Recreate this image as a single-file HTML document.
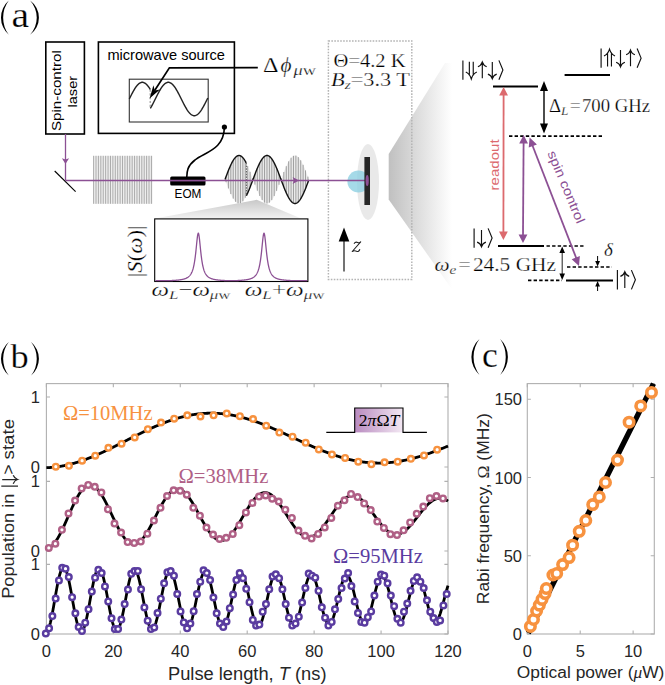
<!DOCTYPE html><html><head><meta charset="utf-8"><style>html,body{margin:0;padding:0;background:#fff;}svg{display:block;}</style></head><body><svg width="665" height="685" viewBox="0 0 665 685"><defs>
<linearGradient id="cone" x1="0" x2="1" y1="0" y2="0"><stop offset="0" stop-color="#c0c0c0"/><stop offset="1" stop-color="#ffffff"/></linearGradient>
<linearGradient id="wedge" x1="0" x2="0" y1="0" y2="1"><stop offset="0" stop-color="#c8c8c8"/><stop offset="1" stop-color="#f2f2f2"/></linearGradient>
<linearGradient id="pulse" x1="0" x2="1" y1="0" y2="0"><stop offset="0" stop-color="#b98bc0"/><stop offset="1" stop-color="#f3e8f3"/></linearGradient>
<marker id="ahP" viewBox="0 0 10 10" refX="10" refY="5" markerWidth="10" markerHeight="10" markerUnits="userSpaceOnUse" orient="auto-start-reverse"><path d="M0,0 L10,5 L0,10 z" fill="#8c5094"/></marker>
</defs>
<path d="M8.8,0.6A22.64,22.64 0 0 0 8.8,34.8A28.7,28.7 0 0 1 8.8,0.6z" fill="#000"/>
<path d="M30.1,0.6A21.01,21.01 0 0 1 30.1,34.8A25.31,25.31 0 0 0 30.1,0.6z" fill="#000"/>
<text x="11.4" y="26.5" font-size="36" font-family="Liberation Serif, serif" fill="#000" text-anchor="start" textLength="17.6" lengthAdjust="spacingAndGlyphs"   stroke="#fff" stroke-width="0.25">a</text>
<rect x="45.8" y="42" width="38.6" height="92" fill="none" stroke="#000" stroke-width="1.6"/>
<text x="61.2" y="131" font-size="13.3" font-family="Liberation Sans, sans-serif" fill="#000" text-anchor="start" transform="rotate(-90 61.2 131)" textLength="80.8" lengthAdjust="spacingAndGlyphs"  >Spin-control</text>
<text x="76.6" y="107.5" font-size="13.3" font-family="Liberation Sans, sans-serif" fill="#000" text-anchor="start" transform="rotate(-90 76.6 107.5)" textLength="31.6" lengthAdjust="spacingAndGlyphs"  >laser</text>
<rect x="98.4" y="42" width="136" height="91.4" fill="none" stroke="#000" stroke-width="1.6"/>
<text x="107.4" y="59.6" font-size="14.5" font-family="Liberation Sans, sans-serif" fill="#000" text-anchor="start" textLength="117.6" lengthAdjust="spacingAndGlyphs"  >microwave source</text>
<rect x="129.3" y="79.2" width="78.9" height="42.8" fill="none" stroke="#333" stroke-width="1.1"/>
<polyline points="129.3,99 129.8,97.99 130.3,96.99 130.8,95.99 131.3,95 131.8,94.03 132.3,93.08 132.8,92.15 133.3,91.24 133.8,90.36 134.3,89.51 134.8,88.7 135.3,87.93 135.8,87.19 136.3,86.5 136.8,85.85 137.3,85.26 137.8,84.71 138.3,84.21 138.8,83.77 139.3,83.39 139.8,83.06 140.3,82.79 140.8,82.57 141.3,82.42 141.8,82.33 142.3,82.3 142.8,82.33 143.3,82.42 143.8,82.57 144.3,82.79 144.8,83.06 145.3,83.39 145.8,83.77 146.3,84.21 146.8,84.71 147.3,85.26 147.8,85.85 148.3,86.5 148.8,87.19 149.3,87.93 149.8,88.7 150.3,89.51" fill="none" stroke="#222" stroke-width="1.45"/>
<polyline points="150.3,108.49 150.8,107.64 151.3,106.76 151.8,105.85 152.3,104.92 152.8,103.97 153.3,103 153.8,102.01 154.3,101.01 154.8,100.01 155.3,99 155.8,97.99 156.3,96.99 156.8,95.99 157.3,95 157.8,94.03 158.3,93.08 158.8,92.15 159.3,91.24 159.8,90.36 160.3,89.51 160.8,88.7 161.3,87.93 161.8,87.19 162.3,86.5 162.8,85.85 163.3,85.26 163.8,84.71 164.3,84.21 164.8,83.77 165.3,83.39 165.8,83.06 166.3,82.79 166.8,82.57 167.3,82.42 167.8,82.33 168.3,82.3 168.8,82.33 169.3,82.42 169.8,82.57 170.3,82.79 170.8,83.06 171.3,83.39 171.8,83.77 172.3,84.21 172.8,84.71 173.3,85.26 173.8,85.85 174.3,86.5 174.8,87.19 175.3,87.93 175.8,88.7 176.3,89.51 176.8,90.36 177.3,91.24 177.8,92.15 178.3,93.08 178.8,94.03 179.3,95 179.8,95.99 180.3,96.99 180.8,97.99 181.3,99 181.8,100.01 182.3,101.01 182.8,102.01 183.3,103 183.8,103.97 184.3,104.92 184.8,105.85 185.3,106.76 185.8,107.64 186.3,108.49 186.8,109.3 187.3,110.07 187.8,110.81 188.3,111.5 188.8,112.15 189.3,112.74 189.8,113.29 190.3,113.79 190.8,114.23 191.3,114.61 191.8,114.94 192.3,115.21 192.8,115.43 193.3,115.58 193.8,115.67 194.3,115.7 194.8,115.67 195.3,115.58 195.8,115.43 196.3,115.21 196.8,114.94 197.3,114.61 197.8,114.23 198.3,113.79 198.8,113.29 199.3,112.74 199.8,112.15 200.3,111.5 200.8,110.81 201.3,110.07 201.8,109.3 202.3,108.49 202.8,107.64 203.3,106.76 203.8,105.85 204.3,104.92 204.8,103.97 205.3,103 205.8,102.01 206.3,101.01 206.8,100.01 207.3,99 207.8,97.99" fill="none" stroke="#222" stroke-width="1.45"/>
<line x1="150.2" y1="89.51" x2="150.2" y2="108.49" stroke="#999" stroke-width="1.2" stroke-dasharray="2.2,1.6"/>
<polyline points="257.8,67.6 169.4,67.9 154.5,90.8" fill="none" stroke="#000" stroke-width="1.7"/>
<path d="M149.60,98.40 L159.95,89.62 L154.77,90.43 L153.41,85.37 z" fill="#000"/>
<text x="263" y="72" font-size="20.5" font-family="Liberation Serif, serif" fill="#000" text-anchor="start" textLength="15.5" lengthAdjust="spacingAndGlyphs"   stroke="#fff" stroke-width="0.25">&#916;</text>
<text x="280.5" y="72" font-size="20" font-family="Liberation Serif, serif" fill="#000" text-anchor="start" textLength="11" lengthAdjust="spacingAndGlyphs" font-style="italic"  stroke="#fff" stroke-width="0.25">&#981;</text>
<text x="293.5" y="75" font-size="14" font-family="Liberation Serif, serif" fill="#000" text-anchor="start" textLength="22.5" lengthAdjust="spacingAndGlyphs"   stroke="#fff" stroke-width="0.25"><tspan font-style="italic">&#956;</tspan>w</text>
<circle cx="224.4" cy="127" r="2.6" fill="#000"/>
<path d="M224.4,127 C224,150 205,152 195,160 C187,166 187,172 186.8,177" fill="none" stroke="#000" stroke-width="1.6"/>
<line x1="65.5" y1="134" x2="65.5" y2="180.5" stroke="#8c5094" stroke-width="1.3"/>
<path d="M61.9,158.2 L65.5,159.5 L69.1,158.2 L65.5,164 z" fill="#8c5094"/>
<line x1="54.7" y1="171" x2="75.6" y2="191.6" stroke="#000" stroke-width="1.1"/>
<polygon points="256.7,199.8 301,218.5 155,218.5" fill="url(#wedge)"/>
<rect x="93.3" y="155.8" width="59.2" height="48" fill="#eeeeee"/>
<path d="M93.6,155.8V203.8M96.01,155.8V203.8M98.42,155.8V203.8M100.83,155.8V203.8M103.24,155.8V203.8M105.65,155.8V203.8M108.06,155.8V203.8M110.47,155.8V203.8M112.88,155.8V203.8M115.29,155.8V203.8M117.7,155.8V203.8M120.11,155.8V203.8M122.52,155.8V203.8M124.93,155.8V203.8M127.34,155.8V203.8M129.75,155.8V203.8M132.16,155.8V203.8M134.57,155.8V203.8M136.98,155.8V203.8M139.39,155.8V203.8M141.8,155.8V203.8M144.21,155.8V203.8M146.62,155.8V203.8M149.03,155.8V203.8M151.44,155.8V203.8" stroke="#999999" stroke-width="0.8" fill="none"/>
<polygon points="225,179.5 225.5,178.15 226,176.81 226.5,175.48 227,174.16 227.5,172.86 228,171.57 228.5,170.32 229,169.09 229.5,167.89 230,166.73 230.5,165.61 231,164.54 231.5,163.51 232,162.53 232.5,161.6 233,160.74 233.5,159.93 234,159.18 234.5,158.49 235,157.88 235.5,157.33 236,156.85 236.5,156.44 237,156.1 237.5,155.84 238,155.65 238.5,155.54 239,155.5 239.5,155.54 240,155.65 240.5,155.84 241,156.1 241.5,156.44 242,156.85 242.5,157.33 243,157.88 243.5,158.49 244,159.18 244.5,159.93 245,160.74 245.5,161.6 246,162.53 246.5,163.51 247,164.54 247.5,165.61 248,166.73 248.5,167.89 249,169.09 249.5,170.32 250,171.57 250.5,172.86 251,174.16 251.5,175.48 252,176.81 252.5,178.15 253,179.5 253.5,178.15 254,176.81 254.5,175.48 255,174.16 255.5,172.86 256,171.57 256.5,170.32 257,169.09 257.5,167.89 258,166.73 258.5,165.61 259,164.54 259.5,163.51 260,162.53 260.5,161.6 261,160.74 261.5,159.93 262,159.18 262.5,158.49 263,157.88 263.5,157.33 264,156.85 264.5,156.44 265,156.1 265.5,155.84 266,155.65 266.5,155.54 267,155.5 267.5,155.54 268,155.65 268.5,155.84 269,156.1 269.5,156.44 270,156.85 270.5,157.33 271,157.88 271.5,158.49 272,159.18 272.5,159.93 273,160.74 273.5,161.6 274,162.53 274.5,163.51 275,164.54 275.5,165.61 276,166.73 276.5,167.89 277,169.09 277.5,170.32 278,171.57 278.5,172.86 279,174.16 279.5,175.48 280,176.81 280.5,178.15 281,179.5 281.5,178.15 282,176.81 282.5,175.48 283,174.16 283.5,172.86 284,171.57 284.5,170.32 285,169.09 285.5,167.89 286,166.73 286.5,165.61 287,164.54 287.5,163.51 288,162.53 288.5,161.6 289,160.74 289.5,159.93 290,159.18 290.5,158.49 291,157.88 291.5,157.33 292,156.85 292.5,156.44 293,156.1 293.5,155.84 294,155.65 294.5,155.54 295,155.5 295.5,155.54 296,155.65 296.5,155.84 297,156.1 297.5,156.44 298,156.85 298.5,157.33 299,157.88 299.5,158.49 300,159.18 300.5,159.93 301,160.74 301.5,161.6 302,162.53 302.5,163.51 303,164.54 303.5,165.61 304,166.73 304.5,167.89 305,169.09 305.5,170.32 306,171.57 306.5,172.86 307,174.16 307.5,175.48 308,176.81 308.5,178.15 309,179.5 309,179.5 308.5,180.85 308,182.19 307.5,183.52 307,184.84 306.5,186.14 306,187.43 305.5,188.68 305,189.91 304.5,191.11 304,192.27 303.5,193.39 303,194.46 302.5,195.49 302,196.47 301.5,197.4 301,198.26 300.5,199.07 300,199.82 299.5,200.51 299,201.12 298.5,201.67 298,202.15 297.5,202.56 297,202.9 296.5,203.16 296,203.35 295.5,203.46 295,203.5 294.5,203.46 294,203.35 293.5,203.16 293,202.9 292.5,202.56 292,202.15 291.5,201.67 291,201.12 290.5,200.51 290,199.82 289.5,199.07 289,198.26 288.5,197.4 288,196.47 287.5,195.49 287,194.46 286.5,193.39 286,192.27 285.5,191.11 285,189.91 284.5,188.68 284,187.43 283.5,186.14 283,184.84 282.5,183.52 282,182.19 281.5,180.85 281,179.5 280.5,180.85 280,182.19 279.5,183.52 279,184.84 278.5,186.14 278,187.43 277.5,188.68 277,189.91 276.5,191.11 276,192.27 275.5,193.39 275,194.46 274.5,195.49 274,196.47 273.5,197.4 273,198.26 272.5,199.07 272,199.82 271.5,200.51 271,201.12 270.5,201.67 270,202.15 269.5,202.56 269,202.9 268.5,203.16 268,203.35 267.5,203.46 267,203.5 266.5,203.46 266,203.35 265.5,203.16 265,202.9 264.5,202.56 264,202.15 263.5,201.67 263,201.12 262.5,200.51 262,199.82 261.5,199.07 261,198.26 260.5,197.4 260,196.47 259.5,195.49 259,194.46 258.5,193.39 258,192.27 257.5,191.11 257,189.91 256.5,188.68 256,187.43 255.5,186.14 255,184.84 254.5,183.52 254,182.19 253.5,180.85 253,179.5 252.5,180.85 252,182.19 251.5,183.52 251,184.84 250.5,186.14 250,187.43 249.5,188.68 249,189.91 248.5,191.11 248,192.27 247.5,193.39 247,194.46 246.5,195.49 246,196.47 245.5,197.4 245,198.26 244.5,199.07 244,199.82 243.5,200.51 243,201.12 242.5,201.67 242,202.15 241.5,202.56 241,202.9 240.5,203.16 240,203.35 239.5,203.46 239,203.5 238.5,203.46 238,203.35 237.5,203.16 237,202.9 236.5,202.56 236,202.15 235.5,201.67 235,201.12 234.5,200.51 234,199.82 233.5,199.07 233,198.26 232.5,197.4 232,196.47 231.5,195.49 231,194.46 230.5,193.39 230,192.27 229.5,191.11 229,189.91 228.5,188.68 228,187.43 227.5,186.14 227,184.84 226.5,183.52 226,182.19 225.5,180.85 225,179.5" fill="#ebebeb"/>
<path d="M226,176.81V182.19M228.41,170.54V188.46M230.82,164.92V194.08M233.23,160.36V198.64M235.64,157.19V201.81M238.05,155.64V203.36M240.46,155.82V203.18M242.87,157.73V201.27M245.28,161.22V197.78M247.69,166.03V192.97M250.1,171.83V187.17M252.51,178.18V180.82M254.92,174.37V184.63M257.33,168.29V190.71M259.74,163.03V195.97M262.15,158.97V200.03M264.56,156.39V202.61M266.97,155.5V203.5M269.38,156.35V202.65M271.79,158.88V200.12M274.2,162.91V196.09M276.61,168.15V190.85M279.02,174.21V184.79M281.43,178.34V180.66M283.84,171.98V187.02M286.25,166.17V192.83M288.66,161.32V197.68M291.07,157.8V201.2M293.48,155.85V203.15M295.89,155.62V203.38M298.3,157.13V201.87M300.71,160.26V198.74M303.12,164.79V194.21M305.53,170.39V188.61M307.94,176.65V182.35" stroke="#8a8a8a" stroke-width="0.8" fill="none"/>
<polyline points="225,179.5 225.4,178.42 225.8,177.35 226.2,176.28 226.6,175.21 227,174.16 227.4,173.12 227.8,172.08 228.2,171.07 228.6,170.07 229,169.09 229.4,168.13 229.8,167.19 230.2,166.28 230.6,165.39 231,164.54 231.4,163.71 231.8,162.91 232.2,162.15 232.6,161.43 233,160.74 233.4,160.08 233.8,159.47 234.2,158.9 234.6,158.37 235,157.88 235.4,157.43 235.8,157.03 236.2,156.67 236.6,156.36 237,156.1 237.4,155.89 237.8,155.72 238.2,155.6 238.6,155.52 239,155.5 239.4,155.52 239.8,155.6 240.2,155.72 240.6,155.89 241,156.1 241.4,156.36 241.8,156.67 242.2,157.03 242.6,157.43 243,157.88 243.4,158.37 243.8,158.9 244.2,159.47 244.6,160.08 245,160.74 245.4,161.43 245.8,162.15 246.2,162.91" fill="none" stroke="#111" stroke-width="1.4"/>
<polyline points="246.4,195.69 246.8,194.88 247.2,194.04 247.6,193.17 248,192.27 248.4,191.34 248.8,190.4 249.2,189.43 249.6,188.44 250,187.43 250.4,186.4 250.8,185.36 251.2,184.31 251.6,183.25 252,182.19 252.4,181.11 252.8,180.04 253.2,178.96 253.6,177.89 254,176.81 254.4,175.75 254.8,174.69 255.2,173.64 255.6,172.6 256,171.57 256.4,170.56 256.8,169.57 257.2,168.6 257.6,167.66 258,166.73 258.4,165.83 258.8,164.96 259.2,164.12 259.6,163.31 260,162.53 260.4,161.79 260.8,161.08 261.2,160.41 261.6,159.77 262,159.18 262.4,158.63 262.8,158.12 263.2,157.65 263.6,157.23 264,156.85 264.4,156.51 264.8,156.23 265.2,155.99 265.6,155.8 266,155.65 266.4,155.55 266.8,155.51 267.2,155.51 267.6,155.55 268,155.65 268.4,155.8 268.8,155.99 269.2,156.23 269.6,156.51 270,156.85 270.4,157.23 270.8,157.65 271.2,158.12 271.6,158.63 272,159.18 272.4,159.77 272.8,160.41 273.2,161.08 273.6,161.79 274,162.53 274.4,163.31 274.8,164.12 275.2,164.96 275.6,165.83 276,166.73 276.4,167.66 276.8,168.6 277.2,169.57 277.6,170.56 278,171.57 278.4,172.6 278.8,173.64 279.2,174.69 279.6,175.75 280,176.81 280.4,177.89 280.8,178.96 281.2,180.04 281.6,181.11 282,182.19 282.4,183.25 282.8,184.31 283.2,185.36 283.6,186.4 284,187.43 284.4,188.44 284.8,189.43 285.2,190.4 285.6,191.34 286,192.27 286.4,193.17 286.8,194.04 287.2,194.88 287.6,195.69 288,196.47 288.4,197.21 288.8,197.92 289.2,198.59 289.6,199.23 290,199.82 290.4,200.37 290.8,200.88 291.2,201.35 291.6,201.77 292,202.15 292.4,202.49 292.8,202.77 293.2,203.01 293.6,203.2 294,203.35 294.4,203.45 294.8,203.49 295.2,203.49 295.6,203.45 296,203.35 296.4,203.2 296.8,203.01 297.2,202.77 297.6,202.49 298,202.15 298.4,201.77 298.8,201.35 299.2,200.88 299.6,200.37 300,199.82 300.4,199.23 300.8,198.59 301.2,197.92 301.6,197.21 302,196.47 302.4,195.69 302.8,194.88 303.2,194.04 303.6,193.17 304,192.27 304.4,191.34 304.8,190.4 305.2,189.43 305.6,188.44 306,187.43 306.4,186.4 306.8,185.36 307.2,184.31 307.6,183.25 308,182.19 308.4,181.11 308.8,180.04" fill="none" stroke="#111" stroke-width="1.4"/>
<line x1="246.4" y1="162.91" x2="246.4" y2="195.69" stroke="#333" stroke-width="0.8" stroke-dasharray="1.5,1.2"/>
<rect x="170.2" y="176.6" width="35.3" height="8.9" rx="1.5" fill="#000"/>
<line x1="170.2" y1="180.6" x2="205.5" y2="180.6" stroke="#8c5094" stroke-width="1.2"/>
<text x="174.6" y="198.1" font-size="12.4" font-family="Liberation Sans, sans-serif" fill="#000" text-anchor="start" textLength="26.8" lengthAdjust="spacingAndGlyphs"  >EOM</text>
<rect x="154.7" y="218.9" width="153.2" height="62.6" fill="#fff" stroke="#000" stroke-width="1.1"/>
<polyline points="155.5,280.6 155.75,280.6 156,280.6 156.25,280.6 156.5,280.6 156.75,280.6 157,280.6 157.25,280.6 157.5,280.6 157.75,280.6 158,280.6 158.25,280.6 158.5,280.6 158.75,280.6 159,280.6 159.25,280.6 159.5,280.6 159.75,280.6 160,280.6 160.25,280.6 160.5,280.6 160.75,280.6 161,280.6 161.25,280.6 161.5,280.6 161.75,280.6 162,280.6 162.25,280.6 162.5,280.6 162.75,280.6 163,280.6 163.25,280.6 163.5,280.6 163.75,280.6 164,280.6 164.25,280.6 164.5,280.6 164.75,280.6 165,280.6 165.25,280.6 165.5,280.6 165.75,280.6 166,280.6 166.25,280.6 166.5,280.6 166.75,280.6 167,280.6 167.25,280.6 167.5,280.6 167.75,280.6 168,280.6 168.25,280.6 168.5,280.6 168.75,280.6 169,280.6 169.25,280.6 169.5,280.6 169.75,280.6 170,280.6 170.25,280.6 170.5,280.59 170.75,280.58 171,280.56 171.25,280.55 171.5,280.54 171.75,280.53 172,280.52 172.25,280.51 172.5,280.49 172.75,280.48 173,280.47 173.25,280.45 173.5,280.44 173.75,280.42 174,280.41 174.25,280.39 174.5,280.38 174.75,280.36 175,280.34 175.25,280.32 175.5,280.3 175.75,280.29 176,280.27 176.25,280.25 176.5,280.22 176.75,280.2 177,280.18 177.25,280.16 177.5,280.13 177.75,280.11 178,280.08 178.25,280.06 178.5,280.03 178.75,280 179,279.97 179.25,279.94 179.5,279.91 179.75,279.87 180,279.84 180.25,279.8 180.5,279.76 180.75,279.72 181,279.68 181.25,279.64 181.5,279.6 181.75,279.55 182,279.5 182.25,279.45 182.5,279.4 182.75,279.34 183,279.28 183.25,279.22 183.5,279.16 183.75,279.09 184,279.02 184.25,278.95 184.5,278.87 184.75,278.79 185,278.7 185.25,278.61 185.5,278.52 185.75,278.42 186,278.31 186.25,278.2 186.5,278.08 186.75,277.95 187,277.82 187.25,277.68 187.5,277.52 187.75,277.36 188,277.19 188.25,277.01 188.5,276.81 188.75,276.6 189,276.38 189.25,276.14 189.5,275.88 189.75,275.6 190,275.3 190.25,274.98 190.5,274.63 190.75,274.25 191,273.85 191.25,273.4 191.5,272.92 191.75,272.4 192,271.82 192.25,271.2 192.5,270.52 192.75,269.77 193,268.95 193.25,268.05 193.5,267.05 193.75,265.97 194,264.77 194.25,263.45 194.5,262.01 194.75,260.42 195,258.69 195.25,256.8 195.5,254.75 195.75,252.56 196,250.23 196.25,247.8 196.5,245.3 196.75,242.8 197,240.38 197.25,238.14 197.5,236.2 197.75,234.66 198,233.65 198.25,233.21 198.5,233.4 198.75,234.19 199,235.53 199.25,237.32 199.5,239.45 199.75,241.81 200,244.29 200.25,246.8 200.5,249.27 200.75,251.65 201,253.89 201.25,256 201.5,257.95 201.75,259.74 202,261.39 202.25,262.89 202.5,264.26 202.75,265.5 203,266.63 203.25,267.66 203.5,268.6 203.75,269.45 204,270.22 204.25,270.93 204.5,271.58 204.75,272.17 205,272.72 205.25,273.21 205.5,273.67 205.75,274.09 206,274.48 206.25,274.84 206.5,275.18 206.75,275.48 207,275.77 207.25,276.04 207.5,276.28 207.75,276.51 208,276.73 208.25,276.93 208.5,277.12 208.75,277.3 209,277.46 209.25,277.62 209.5,277.76 209.75,277.9 210,278.03 210.25,278.15 210.5,278.27 210.75,278.37 211,278.48 211.25,278.58 211.5,278.67 211.75,278.76 212,278.84 212.25,278.92 212.5,278.99 212.75,279.06 213,279.13 213.25,279.2 213.5,279.26 213.75,279.32 214,279.38 214.25,279.43 214.5,279.48 214.75,279.53 215,279.58 215.25,279.62 215.5,279.67 215.75,279.71 216,279.75 216.25,279.79 216.5,279.82 216.75,279.86 217,279.89 217.25,279.93 217.5,279.96 217.75,279.99 218,280.02 218.25,280.04 218.5,280.07 218.75,280.1 219,280.12 219.25,280.15 219.5,280.17 219.75,280.19 220,280.22 220.25,280.24 220.5,280.26 220.75,280.28 221,280.3 221.25,280.32 221.5,280.33 221.75,280.35 222,280.37 222.25,280.39 222.5,280.4 222.75,280.42 223,280.43 223.25,280.45 223.5,280.46 223.75,280.47 224,280.49 224.25,280.5 224.5,280.51 224.75,280.53 225,280.54 225.25,280.55 225.5,280.56 225.75,280.57 226,280.58 226.25,280.59 226.5,280.6 226.75,280.6 227,280.6 227.25,280.6 227.5,280.6 227.75,280.6 228,280.6 228.25,280.6 228.5,280.6 228.75,280.6 229,280.6 229.25,280.6 229.5,280.6 229.75,280.6 230,280.6 230.25,280.6 230.5,280.6 230.75,280.6 231,280.6 231.25,280.6 231.5,280.6 231.75,280.6 232,280.6 232.25,280.6 232.5,280.6 232.75,280.6 233,280.6 233.25,280.6 233.5,280.6 233.75,280.6 234,280.6 234.25,280.6 234.5,280.6 234.75,280.6 235,280.6 235.25,280.6 235.5,280.6 235.75,280.6 236,280.59 236.25,280.58 236.5,280.57 236.75,280.56 237,280.55 237.25,280.54 237.5,280.53 237.75,280.52 238,280.5 238.25,280.49 238.5,280.48 238.75,280.46 239,280.45 239.25,280.43 239.5,280.42 239.75,280.4 240,280.39 240.25,280.37 240.5,280.36 240.75,280.34 241,280.32 241.25,280.3 241.5,280.28 241.75,280.26 242,280.24 242.25,280.22 242.5,280.2 242.75,280.18 243,280.15 243.25,280.13 243.5,280.1 243.75,280.08 244,280.05 244.25,280.02 244.5,279.99 244.75,279.96 245,279.93 245.25,279.9 245.5,279.87 245.75,279.83 246,279.79 246.25,279.76 246.5,279.72 246.75,279.67 247,279.63 247.25,279.59 247.5,279.54 247.75,279.49 248,279.44 248.25,279.39 248.5,279.33 248.75,279.27 249,279.21 249.25,279.15 249.5,279.08 249.75,279.01 250,278.93 250.25,278.86 250.5,278.77 250.75,278.69 251,278.59 251.25,278.5 251.5,278.4 251.75,278.29 252,278.17 252.25,278.05 252.5,277.93 252.75,277.79 253,277.65 253.25,277.49 253.5,277.33 253.75,277.16 254,276.97 254.25,276.77 254.5,276.56 254.75,276.33 255,276.09 255.25,275.83 255.5,275.54 255.75,275.24 256,274.91 256.25,274.56 256.5,274.18 256.75,273.76 257,273.31 257.25,272.82 257.5,272.29 257.75,271.7 258,271.07 258.25,270.37 258.5,269.61 258.75,268.77 259,267.85 259.25,266.85 259.5,265.74 259.75,264.51 260,263.17 260.25,261.7 260.5,260.08 260.75,258.32 261,256.4 261.25,254.33 261.5,252.11 261.75,249.75 262,247.3 262.25,244.79 262.5,242.3 262.75,239.91 263,237.72 263.25,235.85 263.5,234.42 263.75,233.51 264,233.2 264.25,233.51 264.5,234.42 264.75,235.85 265,237.72 265.25,239.91 265.5,242.3 265.75,244.79 266,247.3 266.25,249.75 266.5,252.11 266.75,254.33 267,256.4 267.25,258.32 267.5,260.08 267.75,261.7 268,263.17 268.25,264.51 268.5,265.74 268.75,266.85 269,267.85 269.25,268.77 269.5,269.61 269.75,270.37 270,271.07 270.25,271.7 270.5,272.29 270.75,272.82 271,273.31 271.25,273.76 271.5,274.18 271.75,274.56 272,274.91 272.25,275.24 272.5,275.54 272.75,275.83 273,276.09 273.25,276.33 273.5,276.56 273.75,276.77 274,276.97 274.25,277.16 274.5,277.33 274.75,277.49 275,277.65 275.25,277.79 275.5,277.93 275.75,278.05 276,278.17 276.25,278.29 276.5,278.4 276.75,278.5 277,278.59 277.25,278.69 277.5,278.77 277.75,278.86 278,278.93 278.25,279.01 278.5,279.08 278.75,279.15 279,279.21 279.25,279.27 279.5,279.33 279.75,279.39 280,279.44 280.25,279.49 280.5,279.54 280.75,279.59 281,279.63 281.25,279.67 281.5,279.72 281.75,279.76 282,279.79 282.25,279.83 282.5,279.87 282.75,279.9 283,279.93 283.25,279.96 283.5,279.99 283.75,280.02 284,280.05 284.25,280.08 284.5,280.1 284.75,280.13 285,280.15 285.25,280.18 285.5,280.2 285.75,280.22 286,280.24 286.25,280.26 286.5,280.28 286.75,280.3 287,280.32 287.25,280.34 287.5,280.36 287.75,280.37 288,280.39 288.25,280.4 288.5,280.42 288.75,280.43 289,280.45 289.25,280.46 289.5,280.48 289.75,280.49 290,280.5 290.25,280.52 290.5,280.53 290.75,280.54 291,280.55 291.25,280.56 291.5,280.57 291.75,280.58 292,280.59 292.25,280.6 292.5,280.6 292.75,280.6 293,280.6 293.25,280.6 293.5,280.6 293.75,280.6 294,280.6 294.25,280.6 294.5,280.6 294.75,280.6 295,280.6 295.25,280.6 295.5,280.6 295.75,280.6 296,280.6 296.25,280.6 296.5,280.6 296.75,280.6 297,280.6 297.25,280.6 297.5,280.6 297.75,280.6 298,280.6 298.25,280.6 298.5,280.6 298.75,280.6 299,280.6 299.25,280.6 299.5,280.6 299.75,280.6 300,280.6 300.25,280.6 300.5,280.6 300.75,280.6 301,280.6 301.25,280.6 301.5,280.6 301.75,280.6 302,280.6 302.25,280.6 302.5,280.6 302.75,280.6 303,280.6 303.25,280.6 303.5,280.6 303.75,280.6 304,280.6 304.25,280.6 304.5,280.6 304.75,280.6 305,280.6 305.25,280.6 305.5,280.6 305.75,280.6 306,280.6 306.25,280.6 306.5,280.6 306.75,280.6 307,280.6" fill="none" stroke="#8c5094" stroke-width="1.3"/>
<text x="142" y="251.3" font-size="21" font-family="Liberation Serif, serif" fill="#000" text-anchor="middle" transform="rotate(-90 142 251.3)" textLength="52" lengthAdjust="spacingAndGlyphs"   stroke="#fff" stroke-width="0.25">|<tspan font-style="italic">S</tspan>(<tspan font-style="italic">&#969;</tspan>)|</text>
<text x="151.6" y="296.3" font-size="19" font-family="Liberation Serif, serif" fill="#000" text-anchor="start" textLength="79" lengthAdjust="spacingAndGlyphs"   stroke="#fff" stroke-width="0.25"><tspan font-style="italic">&#969;</tspan><tspan font-style="italic" font-size="13" dy="3">L</tspan><tspan dy="-3">&#8722;</tspan><tspan font-style="italic">&#969;</tspan><tspan font-size="13" dy="3"><tspan font-style="italic">&#956;</tspan>w</tspan></text>
<text x="244.7" y="296.3" font-size="19" font-family="Liberation Serif, serif" fill="#000" text-anchor="start" textLength="80" lengthAdjust="spacingAndGlyphs"   stroke="#fff" stroke-width="0.25"><tspan font-style="italic">&#969;</tspan><tspan font-style="italic" font-size="13" dy="3">L</tspan><tspan dy="-3">+</tspan><tspan font-style="italic">&#969;</tspan><tspan font-size="13" dy="3"><tspan font-style="italic">&#956;</tspan>w</tspan></text>
<text x="333.6" y="67.4" font-size="19.5" font-family="Liberation Serif, serif" fill="#000" text-anchor="start" textLength="72" lengthAdjust="spacingAndGlyphs"   stroke="#fff" stroke-width="0.25">&#920;=4.2 K</text>
<text x="331" y="86.4" font-size="19.5" font-family="Liberation Serif, serif" fill="#000" text-anchor="start" textLength="79" lengthAdjust="spacingAndGlyphs"   stroke="#fff" stroke-width="0.25"><tspan font-style="italic">B</tspan><tspan font-style="italic" font-size="13.5" dy="3">z</tspan><tspan dy="-3">=3.3 T</tspan></text>
<polygon points="388.7,154 445,63 452,63 452,288 451,288 388.7,199.4" fill="url(#cone)"/>
<rect x="328.4" y="41" width="83.4" height="238.4" fill="none" stroke="#b4b4b4" stroke-width="1.45" stroke-dasharray="1.6,1.35"/>
<ellipse cx="368" cy="182" rx="11" ry="38" fill="#e9e9e9"/>
<circle cx="358.5" cy="181.5" r="11.1" fill="#8ccfe2" fill-opacity="0.78"/>
<line x1="65.5" y1="180.6" x2="366" y2="180.6" stroke="#8c5094" stroke-width="1.5"/>
<path d="M292.6,177.1 L299,180.5 L292.6,183.9 L294.1,180.5 z" fill="#8c5094"/>
<rect x="364.4" y="157" width="5.6" height="48" fill="#262626"/>
<ellipse cx="367.2" cy="180.4" rx="1.6" ry="5.5" fill="#8c5094"/>
<line x1="344" y1="271.6" x2="344" y2="238" stroke="#444" stroke-width="1.5"/>
<path d="M344,227.4 L349.3,241.4 L338.7,241.4 z" fill="#000"/>
<path d="M354,243.7 Q355.4,241.4 357.6,242.4 Q359.4,243.2 360.7,241.9 L352.2,251.5 Q354.4,250 356.6,251.2 Q358.7,252.2 359.9,249.2" fill="none" stroke="#222" stroke-width="1.05" stroke-linejoin="round"/>
<line x1="493" y1="86.4" x2="538" y2="86.4" stroke="#000" stroke-width="2"/>
<line x1="564.6" y1="75" x2="610" y2="75" stroke="#000" stroke-width="2"/>
<line x1="509" y1="136.2" x2="603" y2="136.2" stroke="#000" stroke-width="1.7" stroke-dasharray="3.4,2.2"/>
<line x1="498" y1="246" x2="544" y2="246" stroke="#000" stroke-width="2"/>
<line x1="546.5" y1="246" x2="585" y2="246" stroke="#000" stroke-width="1.7" stroke-dasharray="3.4,2.2"/>
<line x1="567" y1="267" x2="612" y2="267" stroke="#000" stroke-width="1.7" stroke-dasharray="3.4,2.2"/>
<line x1="528" y1="280.4" x2="562" y2="280.4" stroke="#000" stroke-width="1.7" stroke-dasharray="3.4,2.2"/>
<line x1="566" y1="280.4" x2="613" y2="280.4" stroke="#000" stroke-width="2"/>
<path d="M462.9,60.4v19.3M469.35,61.8V75.6M473.25,61.8V75.6M465.8,72.1Q469.8,73.9 471.3,79Q472.8,73.9 476.8,72.1M482.3,78.2V61.5M477.9,66.7Q481.1,65.6 482.3,62Q483.5,65.6 486.7,66.7M492.3,61.9V78.6M487.9,74.1Q491.1,75.2 492.3,78.8Q493.5,75.2 496.7,74.1M498.9,60.4L502.9,70.05L498.9,79.7" fill="none" stroke="#111" stroke-width="1.15" stroke-linejoin="miter"/>
<path d="M601.1,48.5v19.3M607.55,66.4V52.6M611.45,66.4V52.6M604,56.1Q608,54.3 609.5,49.2Q611,54.3 615,56.1M620.5,50V66.7M616.1,62.2Q619.3,63.3 620.5,66.9Q621.7,63.3 624.9,62.2M630.5,66.3V49.6M626.1,54.8Q629.3,53.7 630.5,50.1Q631.7,53.7 634.9,54.8M637.1,48.5L641.1,58.15L637.1,67.8" fill="none" stroke="#111" stroke-width="1.15" stroke-linejoin="miter"/>
<path d="M474.1,228.4v19.3M481.5,229.9V246.6M477.1,242.1Q480.3,243.2 481.5,246.8Q482.7,243.2 485.9,242.1M488.1,228.4L492.1,238.05L488.1,247.7" fill="none" stroke="#111" stroke-width="1.15" stroke-linejoin="miter"/>
<path d="M617.4,270.1v19.3M624.8,287.9V271.2M620.4,276.4Q623.6,275.3 624.8,271.7Q626,275.3 629.2,276.4M631.4,270.1L635.4,279.75L631.4,289.4" fill="none" stroke="#111" stroke-width="1.15" stroke-linejoin="miter"/>
<text x="549" y="112" font-size="19" font-family="Liberation Serif, serif" fill="#000" text-anchor="start" textLength="101" lengthAdjust="spacingAndGlyphs"   stroke="#fff" stroke-width="0.25">&#916;<tspan font-style="italic" font-size="13.5" dy="3">L</tspan><tspan dy="-3" dx="1.5">=</tspan><tspan dx="1.5">700 GHz</tspan></text>
<text x="434.5" y="271" font-size="19" font-family="Liberation Serif, serif" fill="#000" text-anchor="start" textLength="121.5" lengthAdjust="spacingAndGlyphs"   stroke="#fff" stroke-width="0.25"><tspan font-style="italic">&#969;</tspan><tspan font-style="italic" font-size="13.5" dy="3">e</tspan><tspan dy="-3" dx="2">=</tspan><tspan dx="2">24.5 GHz</tspan></text>
<text x="604" y="256" font-size="19" font-family="Liberation Serif, serif" fill="#000" text-anchor="start" font-style="italic"  stroke="#fff" stroke-width="0.25">&#948;</text>
<line x1="544" y1="87" x2="544" y2="128" stroke="#000" stroke-width="1.4"/>
<path d="M544,81 L548,91 L540,91 z M544,133.6 L548,123.6 L540,123.6 z" fill="#000"/>
<line x1="562.2" y1="250" x2="562.2" y2="276.4" stroke="#333" stroke-width="1.1"/>
<path d="M562.2,246.5 L565,253 L559.4,253 z M562.2,280 L565,273.5 L559.4,273.5 z" fill="#000"/>
<line x1="597.6" y1="256" x2="597.6" y2="262" stroke="#000" stroke-width="1"/>
<path d="M597.6,266.5 L600,261 L595.2,261 z" fill="#000"/>
<line x1="597.6" y1="291" x2="597.6" y2="286" stroke="#000" stroke-width="1"/>
<path d="M597.6,281 L600,286.5 L595.2,286.5 z" fill="#000"/>
<line x1="503.6" y1="94" x2="503.4" y2="233" stroke="#dc6a6e" stroke-width="1.8"/>
<path d="M503.6,87 L508,95.5 L499.2,95.5 z M503.4,240 L507.8,231.5 L499,231.5 z" fill="#dc6a6e"/>
<text x="498.8" y="190.4" font-size="13" font-family="Liberation Sans, sans-serif" fill="#dc6a6e" text-anchor="start" transform="rotate(-90 498.8 190.4)" textLength="51" lengthAdjust="spacingAndGlyphs"  >readout</text>
<line x1="523.6" y1="142" x2="523" y2="236" stroke="#8c5094" stroke-width="1.8"/>
<path d="M523.6,135 L528,143.5 L519.2,143.5 z M523,243 L527.4,234.5 L518.6,234.5 z" fill="#8c5094"/>
<line x1="531.5" y1="143" x2="577" y2="260" stroke="#8c5094" stroke-width="1.8"/>
<path d="M579,266 L571.66,259.18 L579.87,256.02 z M529.6,137.6 L536.94,144.42 L528.73,147.58 z" fill="#8c5094"/>
<text x="547.2" y="153" font-size="13" font-family="Liberation Sans, sans-serif" fill="#8c5094" text-anchor="start" transform="rotate(67.3 547.2 153)" textLength="77.5" lengthAdjust="spacingAndGlyphs"  >spin control</text>
<path d="M8.8,342.1A21.88,21.88 0 0 0 8.8,375.6A27.65,27.65 0 0 1 8.8,342.1z" fill="#000"/>
<path d="M31.1,342.1A21.88,21.88 0 0 1 31.1,375.6A27.65,27.65 0 0 0 31.1,342.1z" fill="#000"/>
<text x="10.4" y="367.6" font-size="34" font-family="Liberation Serif, serif" fill="#000" text-anchor="start" textLength="18.2" lengthAdjust="spacingAndGlyphs"   stroke="#fff" stroke-width="0.25">b</text>
<rect x="46.4" y="383.6" width="401.6" height="250.4" fill="none" stroke="#b0b0b0" stroke-width="1.1"/>
<text x="46.4" y="657" font-size="16.5" font-family="Liberation Sans, sans-serif" fill="#262626" text-anchor="middle"  >0</text>
<text x="113.33" y="657" font-size="16.5" font-family="Liberation Sans, sans-serif" fill="#262626" text-anchor="middle"  >20</text>
<text x="180.27" y="657" font-size="16.5" font-family="Liberation Sans, sans-serif" fill="#262626" text-anchor="middle"  >40</text>
<text x="247.2" y="657" font-size="16.5" font-family="Liberation Sans, sans-serif" fill="#262626" text-anchor="middle"  >60</text>
<text x="314.13" y="657" font-size="16.5" font-family="Liberation Sans, sans-serif" fill="#262626" text-anchor="middle"  >80</text>
<text x="381.07" y="657" font-size="16.5" font-family="Liberation Sans, sans-serif" fill="#262626" text-anchor="middle"  >100</text>
<text x="448" y="657" font-size="16.5" font-family="Liberation Sans, sans-serif" fill="#262626" text-anchor="middle"  >120</text>
<text x="40" y="403" font-size="16.5" font-family="Liberation Sans, sans-serif" fill="#262626" text-anchor="end"  >1</text>
<text x="40" y="473" font-size="16.5" font-family="Liberation Sans, sans-serif" fill="#262626" text-anchor="end"  >0</text>
<text x="40" y="487.4" font-size="16.5" font-family="Liberation Sans, sans-serif" fill="#262626" text-anchor="end"  >1</text>
<text x="40" y="557" font-size="16.5" font-family="Liberation Sans, sans-serif" fill="#262626" text-anchor="end"  >0</text>
<text x="40" y="570.4" font-size="16.5" font-family="Liberation Sans, sans-serif" fill="#262626" text-anchor="end"  >1</text>
<text x="40" y="640" font-size="16.5" font-family="Liberation Sans, sans-serif" fill="#262626" text-anchor="end"  >0</text>
<path d="M46.4,634v-3.6M46.4,383.6v3.6M113.33,634v-3.6M113.33,383.6v3.6M180.27,634v-3.6M180.27,383.6v3.6M247.2,634v-3.6M247.2,383.6v3.6M314.13,634v-3.6M314.13,383.6v3.6M381.07,634v-3.6M381.07,383.6v3.6M448,634v-3.6M448,383.6v3.6M46.4,397h3.6M448,397h-3.6M46.4,467h3.6M448,467h-3.6M46.4,481.4h3.6M448,481.4h-3.6M46.4,551h3.6M448,551h-3.6M46.4,564.4h3.6M448,564.4h-3.6M46.4,634h3.6M448,634h-3.6" stroke="#b0b0b0" stroke-width="1.1" fill="none"/>
<text x="168" y="680" font-size="17.5" font-family="Liberation Sans, sans-serif" fill="#262626" text-anchor="start" textLength="158.5" lengthAdjust="spacingAndGlyphs"  >Pulse length, <tspan font-style="italic">T</tspan> (ns)</text>
<text x="14.2" y="598.8" font-size="17.2" font-family="Liberation Sans, sans-serif" fill="#262626" text-anchor="start" transform="rotate(-90 14.2 598.8)" textLength="105.2" lengthAdjust="spacingAndGlyphs"  >Population in</text>
<path d="M1.3,486H18M2.2,479.5H17.2M13.2,475.3Q14.5,478.6 17.6,479.5Q14.5,480.4 13.2,483.7" fill="none" stroke="#262626" stroke-width="1.25"/>
<text x="14.2" y="474.6" font-size="17.2" font-family="Liberation Sans, sans-serif" fill="#262626" text-anchor="start" transform="rotate(-90 14.2 474.6)"  >&gt;</text>
<text x="14.2" y="459.4" font-size="17.2" font-family="Liberation Sans, sans-serif" fill="#262626" text-anchor="start" transform="rotate(-90 14.2 459.4)" textLength="40.5" lengthAdjust="spacingAndGlyphs"  >state</text>
<polyline points="46.4,467.69 46.73,467.68 47.07,467.66 47.4,467.65 47.74,467.64 48.07,467.62 48.41,467.61 48.74,467.59 49.08,467.57 49.41,467.55 49.75,467.53 50.08,467.51 50.42,467.49 50.75,467.46 51.09,467.44 51.42,467.41 51.75,467.39 52.09,467.36 52.42,467.33 52.76,467.3 53.09,467.27 53.43,467.24 53.76,467.2 54.1,467.17 54.43,467.13 54.77,467.09 55.1,467.06 55.44,467.02 55.77,466.98 56.11,466.94 56.44,466.89 56.77,466.85 57.11,466.81 57.44,466.76 57.78,466.71 58.11,466.67 58.45,466.62 58.78,466.57 59.12,466.52 59.45,466.47 59.79,466.41 60.12,466.36 60.46,466.3 60.79,466.25 61.13,466.19 61.46,466.13 61.79,466.07 62.13,466.01 62.46,465.95 62.8,465.89 63.13,465.83 63.47,465.76 63.8,465.7 64.14,465.63 64.47,465.56 64.81,465.5 65.14,465.43 65.48,465.36 65.81,465.29 66.15,465.21 66.48,465.14 66.81,465.07 67.15,464.99 67.48,464.91 67.82,464.84 68.15,464.76 68.49,464.68 68.82,464.6 69.16,464.52 69.49,464.44 69.83,464.35 70.16,464.27 70.5,464.18 70.83,464.1 71.17,464.01 71.5,463.92 71.83,463.83 72.17,463.74 72.5,463.65 72.84,463.56 73.17,463.47 73.51,463.38 73.84,463.28 74.18,463.19 74.51,463.09 74.85,462.99 75.18,462.89 75.52,462.8 75.85,462.7 76.19,462.6 76.52,462.49 76.85,462.39 77.19,462.29 77.52,462.18 77.86,462.08 78.19,461.97 78.53,461.87 78.86,461.76 79.2,461.65 79.53,461.54 79.87,461.43 80.2,461.32 80.54,461.21 80.87,461.09 81.21,460.98 81.54,460.87 81.87,460.75 82.21,460.64 82.54,460.52 82.88,460.4 83.21,460.28 83.55,460.16 83.88,460.04 84.22,459.92 84.55,459.8 84.89,459.68 85.22,459.56 85.56,459.43 85.89,459.31 86.23,459.18 86.56,459.06 86.89,458.93 87.23,458.8 87.56,458.68 87.9,458.55 88.23,458.42 88.57,458.29 88.9,458.16 89.24,458.03 89.57,457.89 89.91,457.76 90.24,457.63 90.58,457.49 90.91,457.36 91.25,457.22 91.58,457.08 91.91,456.95 92.25,456.81 92.58,456.67 92.92,456.53 93.25,456.39 93.59,456.25 93.92,456.11 94.26,455.97 94.59,455.83 94.93,455.69 95.26,455.54 95.6,455.4 95.93,455.25 96.27,455.11 96.6,454.96 96.93,454.82 97.27,454.67 97.6,454.52 97.94,454.38 98.27,454.23 98.61,454.08 98.94,453.93 99.28,453.78 99.61,453.63 99.95,453.48 100.28,453.33 100.62,453.17 100.95,453.02 101.29,452.87 101.62,452.72 101.95,452.56 102.29,452.41 102.62,452.25 102.96,452.1 103.29,451.94 103.63,451.79 103.96,451.63 104.3,451.47 104.63,451.31 104.97,451.16 105.3,451 105.64,450.84 105.97,450.68 106.31,450.52 106.64,450.36 106.97,450.2 107.31,450.04 107.64,449.88 107.98,449.72 108.31,449.56 108.65,449.39 108.98,449.23 109.32,449.07 109.65,448.91 109.99,448.74 110.32,448.58 110.66,448.41 110.99,448.25 111.33,448.08 111.66,447.92 111.99,447.75 112.33,447.59 112.66,447.42 113,447.26 113.33,447.09 113.67,446.92 114,446.76 114.34,446.59 114.67,446.42 115.01,446.26 115.34,446.09 115.68,445.92 116.01,445.75 116.35,445.58 116.68,445.42 117.01,445.25 117.35,445.08 117.68,444.91 118.02,444.74 118.35,444.57 118.69,444.4 119.02,444.23 119.36,444.06 119.69,443.89 120.03,443.72 120.36,443.55 120.7,443.38 121.03,443.21 121.37,443.04 121.7,442.87 122.03,442.7 122.37,442.53 122.7,442.36 123.04,442.19 123.37,442.02 123.71,441.85 124.04,441.67 124.38,441.5 124.71,441.33 125.05,441.16 125.38,440.99 125.72,440.82 126.05,440.65 126.39,440.48 126.72,440.31 127.05,440.14 127.39,439.96 127.72,439.79 128.06,439.62 128.39,439.45 128.73,439.28 129.06,439.11 129.4,438.94 129.73,438.77 130.07,438.6 130.4,438.43 130.74,438.26 131.07,438.09 131.41,437.92 131.74,437.75 132.07,437.58 132.41,437.41 132.74,437.24 133.08,437.07 133.41,436.9 133.75,436.73 134.08,436.56 134.42,436.39 134.75,436.22 135.09,436.05 135.42,435.89 135.76,435.72 136.09,435.55 136.43,435.38 136.76,435.21 137.09,435.05 137.43,434.88 137.76,434.71 138.1,434.55 138.43,434.38 138.77,434.21 139.1,434.05 139.44,433.88 139.77,433.72 140.11,433.55 140.44,433.39 140.78,433.22 141.11,433.06 141.45,432.89 141.78,432.73 142.11,432.57 142.45,432.4 142.78,432.24 143.12,432.08 143.45,431.92 143.79,431.76 144.12,431.59 144.46,431.43 144.79,431.27 145.13,431.11 145.46,430.95 145.8,430.79 146.13,430.63 146.47,430.48 146.8,430.32 147.13,430.16 147.47,430 147.8,429.85 148.14,429.69 148.47,429.53 148.81,429.38 149.14,429.22 149.48,429.07 149.81,428.91 150.15,428.76 150.48,428.6 150.82,428.45 151.15,428.3 151.49,428.15 151.82,428 152.15,427.84 152.49,427.69 152.82,427.54 153.16,427.39 153.49,427.25 153.83,427.1 154.16,426.95 154.5,426.8 154.83,426.66 155.17,426.51 155.5,426.36 155.84,426.22 156.17,426.07 156.51,425.93 156.84,425.79 157.17,425.64 157.51,425.5 157.84,425.36 158.18,425.22 158.51,425.08 158.85,424.94 159.18,424.8 159.52,424.66 159.85,424.52 160.19,424.38 160.52,424.25 160.86,424.11 161.19,423.98 161.53,423.84 161.86,423.71 162.19,423.57 162.53,423.44 162.86,423.31 163.2,423.18 163.53,423.05 163.87,422.92 164.2,422.79 164.54,422.66 164.87,422.53 165.21,422.4 165.54,422.28 165.88,422.15 166.21,422.02 166.55,421.9 166.88,421.78 167.21,421.65 167.55,421.53 167.88,421.41 168.22,421.29 168.55,421.17 168.89,421.05 169.22,420.93 169.56,420.81 169.89,420.69 170.23,420.58 170.56,420.46 170.9,420.35 171.23,420.23 171.57,420.12 171.9,420.01 172.23,419.9 172.57,419.79 172.9,419.68 173.24,419.57 173.57,419.46 173.91,419.35 174.24,419.24 174.58,419.14 174.91,419.03 175.25,418.93 175.58,418.83 175.92,418.72 176.25,418.62 176.59,418.52 176.92,418.42 177.25,418.32 177.59,418.22 177.92,418.13 178.26,418.03 178.59,417.93 178.93,417.84 179.26,417.75 179.6,417.65 179.93,417.56 180.27,417.47 180.6,417.38 180.94,417.29 181.27,417.2 181.61,417.11 181.94,417.03 182.27,416.94 182.61,416.85 182.94,416.77 183.28,416.69 183.61,416.6 183.95,416.52 184.28,416.44 184.62,416.36 184.95,416.29 185.29,416.21 185.62,416.13 185.96,416.05 186.29,415.98 186.63,415.91 186.96,415.83 187.29,415.76 187.63,415.69 187.96,415.62 188.3,415.55 188.63,415.48 188.97,415.42 189.3,415.35 189.64,415.28 189.97,415.22 190.31,415.16 190.64,415.09 190.98,415.03 191.31,414.97 191.65,414.91 191.98,414.85 192.31,414.8 192.65,414.74 192.98,414.68 193.32,414.63 193.65,414.58 193.99,414.52 194.32,414.47 194.66,414.42 194.99,414.37 195.33,414.32 195.66,414.28 196,414.23 196.33,414.18 196.67,414.14 197,414.1 197.33,414.05 197.67,414.01 198,413.97 198.34,413.93 198.67,413.89 199.01,413.85 199.34,413.82 199.68,413.78 200.01,413.75 200.35,413.71 200.68,413.68 201.02,413.65 201.35,413.62 201.69,413.59 202.02,413.56 202.35,413.53 202.69,413.51 203.02,413.48 203.36,413.46 203.69,413.44 204.03,413.41 204.36,413.39 204.7,413.37 205.03,413.35 205.37,413.33 205.7,413.32 206.04,413.3 206.37,413.29 206.71,413.27 207.04,413.26 207.37,413.25 207.71,413.24 208.04,413.23 208.38,413.22 208.71,413.21 209.05,413.2 209.38,413.2 209.72,413.19 210.05,413.19 210.39,413.18 210.72,413.18 211.06,413.18 211.39,413.18 211.73,413.18 212.06,413.19 212.39,413.19 212.73,413.19 213.06,413.2 213.4,413.21 213.73,413.21 214.07,413.22 214.4,413.23 214.74,413.24 215.07,413.25 215.41,413.26 215.74,413.28 216.08,413.29 216.41,413.31 216.75,413.33 217.08,413.34 217.41,413.36 217.75,413.38 218.08,413.4 218.42,413.42 218.75,413.45 219.09,413.47 219.42,413.49 219.76,413.52 220.09,413.55 220.43,413.57 220.76,413.6 221.1,413.63 221.43,413.66 221.77,413.7 222.1,413.73 222.43,413.76 222.77,413.8 223.1,413.83 223.44,413.87 223.77,413.91 224.11,413.94 224.44,413.98 224.78,414.02 225.11,414.07 225.45,414.11 225.78,414.15 226.12,414.2 226.45,414.24 226.79,414.29 227.12,414.34 227.45,414.38 227.79,414.43 228.12,414.48 228.46,414.53 228.79,414.59 229.13,414.64 229.46,414.69 229.8,414.75 230.13,414.8 230.47,414.86 230.8,414.92 231.14,414.98 231.47,415.04 231.81,415.1 232.14,415.16 232.47,415.22 232.81,415.29 233.14,415.35 233.48,415.42 233.81,415.48 234.15,415.55 234.48,415.62 234.82,415.69 235.15,415.75 235.49,415.83 235.82,415.9 236.16,415.97 236.49,416.04 236.83,416.12 237.16,416.19 237.49,416.27 237.83,416.34 238.16,416.42 238.5,416.5 238.83,416.58 239.17,416.66 239.5,416.74 239.84,416.82 240.17,416.91 240.51,416.99 240.84,417.08 241.18,417.16 241.51,417.25 241.85,417.33 242.18,417.42 242.51,417.51 242.85,417.6 243.18,417.69 243.52,417.78 243.85,417.87 244.19,417.97 244.52,418.06 244.86,418.15 245.19,418.25 245.53,418.35 245.86,418.44 246.2,418.54 246.53,418.64 246.87,418.74 247.2,418.84 247.53,418.94 247.87,419.04 248.2,419.14 248.54,419.25 248.87,419.35 249.21,419.45 249.54,419.56 249.88,419.66 250.21,419.77 250.55,419.88 250.88,419.99 251.22,420.1 251.55,420.2 251.89,420.32 252.22,420.43 252.55,420.54 252.89,420.65 253.22,420.76 253.56,420.88 253.89,420.99 254.23,421.11 254.56,421.22 254.9,421.34 255.23,421.46 255.57,421.57 255.9,421.69 256.24,421.81 256.57,421.93 256.91,422.05 257.24,422.17 257.57,422.29 257.91,422.42 258.24,422.54 258.58,422.66 258.91,422.79 259.25,422.91 259.58,423.04 259.92,423.16 260.25,423.29 260.59,423.41 260.92,423.54 261.26,423.67 261.59,423.8 261.93,423.93 262.26,424.06 262.59,424.19 262.93,424.32 263.26,424.45 263.6,424.58 263.93,424.72 264.27,424.85 264.6,424.98 264.94,425.12 265.27,425.25 265.61,425.39 265.94,425.52 266.28,425.66 266.61,425.79 266.95,425.93 267.28,426.07 267.61,426.21 267.95,426.35 268.28,426.48 268.62,426.62 268.95,426.76 269.29,426.9 269.62,427.04 269.96,427.19 270.29,427.33 270.63,427.47 270.96,427.61 271.3,427.75 271.63,427.9 271.97,428.04 272.3,428.18 272.63,428.33 272.97,428.47 273.3,428.62 273.64,428.76 273.97,428.91 274.31,429.06 274.64,429.2 274.98,429.35 275.31,429.5 275.65,429.64 275.98,429.79 276.32,429.94 276.65,430.09 276.99,430.24 277.32,430.39 277.65,430.54 277.99,430.69 278.32,430.84 278.66,430.99 278.99,431.14 279.33,431.29 279.66,431.44 280,431.59 280.33,431.74 280.67,431.89 281,432.04 281.34,432.2 281.67,432.35 282.01,432.5 282.34,432.65 282.67,432.81 283.01,432.96 283.34,433.11 283.68,433.27 284.01,433.42 284.35,433.58 284.68,433.73 285.02,433.88 285.35,434.04 285.69,434.19 286.02,434.35 286.36,434.5 286.69,434.66 287.03,434.81 287.36,434.97 287.69,435.12 288.03,435.28 288.36,435.43 288.7,435.59 289.03,435.75 289.37,435.9 289.7,436.06 290.04,436.21 290.37,436.37 290.71,436.53 291.04,436.68 291.38,436.84 291.71,436.99 292.05,437.15 292.38,437.31 292.71,437.46 293.05,437.62 293.38,437.78 293.72,437.93 294.05,438.09 294.39,438.25 294.72,438.4 295.06,438.56 295.39,438.71 295.73,438.87 296.06,439.03 296.4,439.18 296.73,439.34 297.07,439.49 297.4,439.65 297.73,439.81 298.07,439.96 298.4,440.12 298.74,440.27 299.07,440.43 299.41,440.58 299.74,440.74 300.08,440.9 300.41,441.05 300.75,441.21 301.08,441.36 301.42,441.51 301.75,441.67 302.09,441.82 302.42,441.98 302.75,442.13 303.09,442.29 303.42,442.44 303.76,442.59 304.09,442.75 304.43,442.9 304.76,443.05 305.1,443.21 305.43,443.36 305.77,443.51 306.1,443.66 306.44,443.81 306.77,443.97 307.11,444.12 307.44,444.27 307.77,444.42 308.11,444.57 308.44,444.72 308.78,444.87 309.11,445.02 309.45,445.17 309.78,445.32 310.12,445.47 310.45,445.62 310.79,445.77 311.12,445.91 311.46,446.06 311.79,446.21 312.13,446.36 312.46,446.5 312.79,446.65 313.13,446.79 313.46,446.94 313.8,447.09 314.13,447.23 314.47,447.38 314.8,447.52 315.14,447.66 315.47,447.81 315.81,447.95 316.14,448.09 316.48,448.24 316.81,448.38 317.15,448.52 317.48,448.66 317.81,448.8 318.15,448.94 318.48,449.08 318.82,449.22 319.15,449.36 319.49,449.5 319.82,449.64 320.16,449.77 320.49,449.91 320.83,450.05 321.16,450.18 321.5,450.32 321.83,450.45 322.17,450.59 322.5,450.72 322.83,450.86 323.17,450.99 323.5,451.12 323.84,451.25 324.17,451.39 324.51,451.52 324.84,451.65 325.18,451.78 325.51,451.91 325.85,452.04 326.18,452.16 326.52,452.29 326.85,452.42 327.19,452.55 327.52,452.67 327.85,452.8 328.19,452.92 328.52,453.05 328.86,453.17 329.19,453.29 329.53,453.42 329.86,453.54 330.2,453.66 330.53,453.78 330.87,453.9 331.2,454.02 331.54,454.14 331.87,454.26 332.21,454.38 332.54,454.49 332.87,454.61 333.21,454.73 333.54,454.84 333.88,454.96 334.21,455.07 334.55,455.18 334.88,455.29 335.22,455.41 335.55,455.52 335.89,455.63 336.22,455.74 336.56,455.85 336.89,455.96 337.23,456.06 337.56,456.17 337.89,456.28 338.23,456.38 338.56,456.49 338.9,456.59 339.23,456.69 339.57,456.8 339.9,456.9 340.24,457 340.57,457.1 340.91,457.2 341.24,457.3 341.58,457.4 341.91,457.5 342.25,457.59 342.58,457.69 342.91,457.78 343.25,457.88 343.58,457.97 343.92,458.06 344.25,458.16 344.59,458.25 344.92,458.34 345.26,458.43 345.59,458.52 345.93,458.61 346.26,458.69 346.6,458.78 346.93,458.87 347.27,458.95 347.6,459.04 347.93,459.12 348.27,459.2 348.6,459.28 348.94,459.36 349.27,459.44 349.61,459.52 349.94,459.6 350.28,459.68 350.61,459.76 350.95,459.83 351.28,459.91 351.62,459.98 351.95,460.06 352.29,460.13 352.62,460.2 352.95,460.27 353.29,460.34 353.62,460.41 353.96,460.48 354.29,460.55 354.63,460.61 354.96,460.68 355.3,460.74 355.63,460.81 355.97,460.87 356.3,460.93 356.64,461 356.97,461.06 357.31,461.12 357.64,461.17 357.97,461.23 358.31,461.29 358.64,461.35 358.98,461.4 359.31,461.45 359.65,461.51 359.98,461.56 360.32,461.61 360.65,461.66 360.99,461.71 361.32,461.76 361.66,461.81 361.99,461.86 362.33,461.9 362.66,461.95 362.99,461.99 363.33,462.04 363.66,462.08 364,462.12 364.33,462.16 364.67,462.2 365,462.24 365.34,462.28 365.67,462.32 366.01,462.35 366.34,462.39 366.68,462.42 367.01,462.46 367.35,462.49 367.68,462.52 368.01,462.55 368.35,462.58 368.68,462.61 369.02,462.64 369.35,462.66 369.69,462.69 370.02,462.71 370.36,462.74 370.69,462.76 371.03,462.78 371.36,462.81 371.7,462.83 372.03,462.84 372.37,462.86 372.7,462.88 373.03,462.9 373.37,462.91 373.7,462.93 374.04,462.94 374.37,462.95 374.71,462.97 375.04,462.98 375.38,462.99 375.71,463 376.05,463.01 376.38,463.01 376.72,463.02 377.05,463.02 377.39,463.03 377.72,463.03 378.05,463.03 378.39,463.04 378.72,463.04 379.06,463.04 379.39,463.04 379.73,463.03 380.06,463.03 380.4,463.03 380.73,463.02 381.07,463.02 381.4,463.01 381.74,463 382.07,462.99 382.41,462.98 382.74,462.97 383.07,462.96 383.41,462.95 383.74,462.94 384.08,462.92 384.41,462.91 384.75,462.89 385.08,462.87 385.42,462.85 385.75,462.84 386.09,462.82 386.42,462.8 386.76,462.77 387.09,462.75 387.43,462.73 387.76,462.7 388.09,462.68 388.43,462.65 388.76,462.62 389.1,462.6 389.43,462.57 389.77,462.54 390.1,462.51 390.44,462.48 390.77,462.44 391.11,462.41 391.44,462.38 391.78,462.34 392.11,462.3 392.45,462.27 392.78,462.23 393.11,462.19 393.45,462.15 393.78,462.11 394.12,462.07 394.45,462.03 394.79,461.98 395.12,461.94 395.46,461.89 395.79,461.85 396.13,461.8 396.46,461.75 396.8,461.7 397.13,461.65 397.47,461.6 397.8,461.55 398.13,461.5 398.47,461.45 398.8,461.4 399.14,461.34 399.47,461.29 399.81,461.23 400.14,461.17 400.48,461.11 400.81,461.06 401.15,461 401.48,460.94 401.82,460.87 402.15,460.81 402.49,460.75 402.82,460.69 403.15,460.62 403.49,460.56 403.82,460.49 404.16,460.42 404.49,460.35 404.83,460.29 405.16,460.22 405.5,460.15 405.83,460.07 406.17,460 406.5,459.93 406.84,459.86 407.17,459.78 407.51,459.71 407.84,459.63 408.17,459.56 408.51,459.48 408.84,459.4 409.18,459.32 409.51,459.24 409.85,459.16 410.18,459.08 410.52,459 410.85,458.92 411.19,458.83 411.52,458.75 411.86,458.66 412.19,458.58 412.53,458.49 412.86,458.4 413.19,458.32 413.53,458.23 413.86,458.14 414.2,458.05 414.53,457.96 414.87,457.87 415.2,457.78 415.54,457.68 415.87,457.59 416.21,457.5 416.54,457.4 416.88,457.3 417.21,457.21 417.55,457.11 417.88,457.01 418.21,456.92 418.55,456.82 418.88,456.72 419.22,456.62 419.55,456.52 419.89,456.42 420.22,456.31 420.56,456.21 420.89,456.11 421.23,456 421.56,455.9 421.9,455.79 422.23,455.69 422.57,455.58 422.9,455.47 423.23,455.37 423.57,455.26 423.9,455.15 424.24,455.04 424.57,454.93 424.91,454.82 425.24,454.71 425.58,454.6 425.91,454.49 426.25,454.37 426.58,454.26 426.92,454.15 427.25,454.03 427.59,453.92 427.92,453.8 428.25,453.68 428.59,453.57 428.92,453.45 429.26,453.33 429.59,453.21 429.93,453.1 430.26,452.98 430.6,452.86 430.93,452.74 431.27,452.62 431.6,452.5 431.94,452.37 432.27,452.25 432.61,452.13 432.94,452.01 433.27,451.88 433.61,451.76 433.94,451.63 434.28,451.51 434.61,451.38 434.95,451.26 435.28,451.13 435.62,451.01 435.95,450.88 436.29,450.75 436.62,450.62 436.96,450.5 437.29,450.37 437.63,450.24 437.96,450.11 438.29,449.98 438.63,449.85 438.96,449.72 439.3,449.59 439.63,449.46 439.97,449.32 440.3,449.19 440.64,449.06 440.97,448.93 441.31,448.79 441.64,448.66 441.98,448.53 442.31,448.39 442.65,448.26 442.98,448.13 443.31,447.99 443.65,447.86 443.98,447.72 444.32,447.58 444.65,447.45 444.99,447.31 445.32,447.18 445.66,447.04 445.99,446.9 446.33,446.76 446.66,446.63 447,446.49 447.33,446.35 447.67,446.21 448,446.07" fill="none" stroke="#000" stroke-width="2.8" stroke-linejoin="round"/>
<polyline points="46.4,548.58 46.73,548.56 47.07,548.53 47.4,548.48 47.74,548.41 48.07,548.32 48.41,548.21 48.74,548.09 49.08,547.94 49.41,547.78 49.75,547.6 50.08,547.4 50.42,547.18 50.75,546.94 51.09,546.69 51.42,546.42 51.75,546.13 52.09,545.82 52.42,545.5 52.76,545.16 53.09,544.8 53.43,544.43 53.76,544.04 54.1,543.64 54.43,543.22 54.77,542.78 55.1,542.33 55.44,541.86 55.77,541.38 56.11,540.88 56.44,540.37 56.77,539.85 57.11,539.31 57.44,538.76 57.78,538.2 58.11,537.63 58.45,537.04 58.78,536.44 59.12,535.83 59.45,535.21 59.79,534.58 60.12,533.94 60.46,533.28 60.79,532.62 61.13,531.95 61.46,531.27 61.79,530.59 62.13,529.89 62.46,529.19 62.8,528.48 63.13,527.76 63.47,527.04 63.8,526.31 64.14,525.58 64.47,524.84 64.81,524.1 65.14,523.35 65.48,522.6 65.81,521.85 66.15,521.09 66.48,520.33 66.81,519.57 67.15,518.81 67.48,518.04 67.82,517.28 68.15,516.52 68.49,515.75 68.82,514.99 69.16,514.23 69.49,513.47 69.83,512.71 70.16,511.96 70.5,511.2 70.83,510.46 71.17,509.71 71.5,508.97 71.83,508.23 72.17,507.5 72.5,506.78 72.84,506.06 73.17,505.35 73.51,504.64 73.84,503.94 74.18,503.25 74.51,502.57 74.85,501.89 75.18,501.22 75.52,500.57 75.85,499.92 76.19,499.28 76.52,498.65 76.85,498.04 77.19,497.43 77.52,496.83 77.86,496.25 78.19,495.68 78.53,495.12 78.86,494.57 79.2,494.04 79.53,493.51 79.87,493.01 80.2,492.51 80.54,492.03 80.87,491.57 81.21,491.11 81.54,490.68 81.87,490.26 82.21,489.85 82.54,489.46 82.88,489.08 83.21,488.72 83.55,488.38 83.88,488.05 84.22,487.74 84.55,487.44 84.89,487.16 85.22,486.9 85.56,486.66 85.89,486.43 86.23,486.22 86.56,486.03 86.89,485.85 87.23,485.69 87.56,485.55 87.9,485.43 88.23,485.32 88.57,485.23 88.9,485.16 89.24,485.11 89.57,485.08 89.91,485.06 90.24,485.06 90.58,485.08 90.91,485.11 91.25,485.17 91.58,485.24 91.91,485.33 92.25,485.43 92.58,485.56 92.92,485.7 93.25,485.86 93.59,486.03 93.92,486.22 94.26,486.43 94.59,486.66 94.93,486.9 95.26,487.16 95.6,487.43 95.93,487.72 96.27,488.03 96.6,488.35 96.93,488.69 97.27,489.04 97.6,489.41 97.94,489.8 98.27,490.19 98.61,490.6 98.94,491.03 99.28,491.47 99.61,491.92 99.95,492.39 100.28,492.87 100.62,493.36 100.95,493.87 101.29,494.38 101.62,494.91 101.95,495.45 102.29,496 102.62,496.56 102.96,497.14 103.29,497.72 103.63,498.31 103.96,498.91 104.3,499.52 104.63,500.14 104.97,500.77 105.3,501.4 105.64,502.05 105.97,502.7 106.31,503.35 106.64,504.02 106.97,504.69 107.31,505.36 107.64,506.04 107.98,506.73 108.31,507.42 108.65,508.11 108.98,508.81 109.32,509.51 109.65,510.21 109.99,510.92 110.32,511.63 110.66,512.33 110.99,513.05 111.33,513.76 111.66,514.47 111.99,515.18 112.33,515.89 112.66,516.6 113,517.31 113.33,518.02 113.67,518.72 114,519.43 114.34,520.13 114.67,520.82 115.01,521.51 115.34,522.2 115.68,522.89 116.01,523.57 116.35,524.24 116.68,524.91 117.01,525.57 117.35,526.23 117.68,526.88 118.02,527.52 118.35,528.15 118.69,528.78 119.02,529.4 119.36,530.01 119.69,530.61 120.03,531.2 120.36,531.78 120.7,532.35 121.03,532.91 121.37,533.46 121.7,534 122.03,534.53 122.37,535.05 122.7,535.56 123.04,536.05 123.37,536.53 123.71,537 124.04,537.46 124.38,537.9 124.71,538.33 125.05,538.74 125.38,539.15 125.72,539.54 126.05,539.91 126.39,540.27 126.72,540.61 127.05,540.94 127.39,541.26 127.72,541.56 128.06,541.85 128.39,542.12 128.73,542.37 129.06,542.61 129.4,542.83 129.73,543.04 130.07,543.23 130.4,543.4 130.74,543.56 131.07,543.7 131.41,543.83 131.74,543.94 132.07,544.03 132.41,544.11 132.74,544.17 133.08,544.21 133.41,544.24 133.75,544.25 134.08,544.24 134.42,544.22 134.75,544.18 135.09,544.12 135.42,544.05 135.76,543.96 136.09,543.86 136.43,543.74 136.76,543.6 137.09,543.45 137.43,543.28 137.76,543.09 138.1,542.89 138.43,542.68 138.77,542.44 139.1,542.2 139.44,541.94 139.77,541.66 140.11,541.37 140.44,541.06 140.78,540.74 141.11,540.41 141.45,540.06 141.78,539.7 142.11,539.33 142.45,538.94 142.78,538.54 143.12,538.12 143.45,537.7 143.79,537.26 144.12,536.81 144.46,536.34 144.79,535.87 145.13,535.38 145.46,534.89 145.8,534.38 146.13,533.86 146.47,533.34 146.8,532.8 147.13,532.26 147.47,531.7 147.8,531.14 148.14,530.57 148.47,529.99 148.81,529.4 149.14,528.8 149.48,528.2 149.81,527.59 150.15,526.98 150.48,526.36 150.82,525.73 151.15,525.1 151.49,524.47 151.82,523.83 152.15,523.18 152.49,522.54 152.82,521.89 153.16,521.23 153.49,520.58 153.83,519.92 154.16,519.26 154.5,518.6 154.83,517.93 155.17,517.27 155.5,516.61 155.84,515.94 156.17,515.28 156.51,514.62 156.84,513.96 157.17,513.3 157.51,512.65 157.84,511.99 158.18,511.34 158.51,510.69 158.85,510.05 159.18,509.41 159.52,508.77 159.85,508.14 160.19,507.52 160.52,506.89 160.86,506.28 161.19,505.67 161.53,505.07 161.86,504.47 162.19,503.88 162.53,503.3 162.86,502.73 163.2,502.16 163.53,501.61 163.87,501.06 164.2,500.52 164.54,499.99 164.87,499.47 165.21,498.96 165.54,498.46 165.88,497.97 166.21,497.49 166.55,497.03 166.88,496.57 167.21,496.13 167.55,495.69 167.88,495.27 168.22,494.86 168.55,494.47 168.89,494.09 169.22,493.71 169.56,493.36 169.89,493.01 170.23,492.68 170.56,492.37 170.9,492.06 171.23,491.77 171.57,491.5 171.9,491.24 172.23,490.99 172.57,490.76 172.9,490.54 173.24,490.34 173.57,490.16 173.91,489.98 174.24,489.83 174.58,489.68 174.91,489.56 175.25,489.44 175.58,489.35 175.92,489.27 176.25,489.2 176.59,489.15 176.92,489.12 177.25,489.1 177.59,489.09 177.92,489.1 178.26,489.13 178.59,489.17 178.93,489.23 179.26,489.3 179.6,489.39 179.93,489.49 180.27,489.61 180.6,489.74 180.94,489.89 181.27,490.05 181.61,490.23 181.94,490.42 182.27,490.63 182.61,490.85 182.94,491.08 183.28,491.33 183.61,491.59 183.95,491.87 184.28,492.16 184.62,492.46 184.95,492.78 185.29,493.11 185.62,493.45 185.96,493.8 186.29,494.17 186.63,494.55 186.96,494.94 187.29,495.34 187.63,495.75 187.96,496.17 188.3,496.61 188.63,497.05 188.97,497.51 189.3,497.98 189.64,498.45 189.97,498.94 190.31,499.43 190.64,499.93 190.98,500.44 191.31,500.96 191.65,501.49 191.98,502.03 192.31,502.57 192.65,503.12 192.98,503.68 193.32,504.24 193.65,504.81 193.99,505.38 194.32,505.96 194.66,506.55 194.99,507.14 195.33,507.73 195.66,508.33 196,508.93 196.33,509.53 196.67,510.14 197,510.75 197.33,511.36 197.67,511.98 198,512.59 198.34,513.21 198.67,513.83 199.01,514.44 199.34,515.06 199.68,515.68 200.01,516.3 200.35,516.91 200.68,517.53 201.02,518.14 201.35,518.75 201.69,519.36 202.02,519.97 202.35,520.57 202.69,521.17 203.02,521.76 203.36,522.35 203.69,522.94 204.03,523.52 204.36,524.1 204.7,524.67 205.03,525.23 205.37,525.79 205.7,526.35 206.04,526.89 206.37,527.43 206.71,527.96 207.04,528.49 207.37,529 207.71,529.51 208.04,530.01 208.38,530.5 208.71,530.98 209.05,531.45 209.38,531.91 209.72,532.37 210.05,532.81 210.39,533.24 210.72,533.66 211.06,534.07 211.39,534.47 211.73,534.86 212.06,535.24 212.39,535.6 212.73,535.95 213.06,536.3 213.4,536.62 213.73,536.94 214.07,537.24 214.4,537.53 214.74,537.81 215.07,538.08 215.41,538.33 215.74,538.57 216.08,538.79 216.41,539 216.75,539.2 217.08,539.38 217.41,539.55 217.75,539.71 218.08,539.85 218.42,539.98 218.75,540.09 219.09,540.19 219.42,540.27 219.76,540.34 220.09,540.4 220.43,540.44 220.76,540.47 221.1,540.48 221.43,540.48 221.77,540.47 222.1,540.44 222.43,540.39 222.77,540.33 223.1,540.26 223.44,540.18 223.77,540.07 224.11,539.96 224.44,539.83 224.78,539.69 225.11,539.53 225.45,539.36 225.78,539.18 226.12,538.98 226.45,538.77 226.79,538.55 227.12,538.31 227.45,538.07 227.79,537.8 228.12,537.53 228.46,537.24 228.79,536.95 229.13,536.63 229.46,536.31 229.8,535.98 230.13,535.63 230.47,535.28 230.8,534.91 231.14,534.53 231.47,534.14 231.81,533.75 232.14,533.34 232.47,532.92 232.81,532.49 233.14,532.05 233.48,531.61 233.81,531.15 234.15,530.69 234.48,530.22 234.82,529.74 235.15,529.25 235.49,528.76 235.82,528.26 236.16,527.75 236.49,527.23 236.83,526.71 237.16,526.19 237.49,525.65 237.83,525.12 238.16,524.58 238.5,524.03 238.83,523.48 239.17,522.92 239.5,522.37 239.84,521.8 240.17,521.24 240.51,520.67 240.84,520.1 241.18,519.53 241.51,518.96 241.85,518.39 242.18,517.81 242.51,517.24 242.85,516.66 243.18,516.08 243.52,515.51 243.85,514.93 244.19,514.36 244.52,513.79 244.86,513.22 245.19,512.65 245.53,512.08 245.86,511.52 246.2,510.96 246.53,510.4 246.87,509.85 247.2,509.3 247.53,508.76 247.87,508.21 248.2,507.68 248.54,507.15 248.87,506.62 249.21,506.11 249.54,505.59 249.88,505.09 250.21,504.59 250.55,504.09 250.88,503.61 251.22,503.13 251.55,502.66 251.89,502.2 252.22,501.74 252.55,501.3 252.89,500.86 253.22,500.43 253.56,500.02 253.89,499.61 254.23,499.21 254.56,498.82 254.9,498.44 255.23,498.07 255.57,497.71 255.9,497.37 256.24,497.03 256.57,496.71 256.91,496.39 257.24,496.09 257.57,495.8 257.91,495.52 258.24,495.25 258.58,495 258.91,494.76 259.25,494.53 259.58,494.31 259.92,494.1 260.25,493.91 260.59,493.73 260.92,493.57 261.26,493.41 261.59,493.27 261.93,493.15 262.26,493.03 262.59,492.93 262.93,492.84 263.26,492.77 263.6,492.71 263.93,492.66 264.27,492.63 264.6,492.6 264.94,492.6 265.27,492.6 265.61,492.62 265.94,492.65 266.28,492.7 266.61,492.76 266.95,492.83 267.28,492.92 267.61,493.01 267.95,493.13 268.28,493.25 268.62,493.39 268.95,493.54 269.29,493.7 269.62,493.88 269.96,494.06 270.29,494.26 270.63,494.47 270.96,494.7 271.3,494.94 271.63,495.18 271.97,495.44 272.3,495.71 272.63,495.99 272.97,496.29 273.3,496.59 273.64,496.91 273.97,497.23 274.31,497.57 274.64,497.91 274.98,498.27 275.31,498.63 275.65,499.01 275.98,499.39 276.32,499.79 276.65,500.19 276.99,500.6 277.32,501.02 277.65,501.44 277.99,501.88 278.32,502.32 278.66,502.77 278.99,503.22 279.33,503.69 279.66,504.16 280,504.63 280.33,505.11 280.67,505.6 281,506.09 281.34,506.59 281.67,507.09 282.01,507.6 282.34,508.11 282.67,508.62 283.01,509.14 283.34,509.66 283.68,510.19 284.01,510.71 284.35,511.24 284.68,511.77 285.02,512.31 285.35,512.84 285.69,513.38 286.02,513.91 286.36,514.45 286.69,514.98 287.03,515.52 287.36,516.06 287.69,516.59 288.03,517.13 288.36,517.66 288.7,518.19 289.03,518.72 289.37,519.25 289.7,519.77 290.04,520.29 290.37,520.81 290.71,521.32 291.04,521.83 291.38,522.34 291.71,522.84 292.05,523.34 292.38,523.83 292.71,524.32 293.05,524.8 293.38,525.28 293.72,525.75 294.05,526.21 294.39,526.67 294.72,527.12 295.06,527.56 295.39,527.99 295.73,528.42 296.06,528.84 296.4,529.25 296.73,529.66 297.07,530.05 297.4,530.44 297.73,530.82 298.07,531.19 298.4,531.55 298.74,531.9 299.07,532.24 299.41,532.57 299.74,532.89 300.08,533.2 300.41,533.49 300.75,533.78 301.08,534.06 301.42,534.33 301.75,534.58 302.09,534.83 302.42,535.06 302.75,535.28 303.09,535.49 303.42,535.69 303.76,535.88 304.09,536.05 304.43,536.22 304.76,536.37 305.1,536.51 305.43,536.63 305.77,536.75 306.1,536.85 306.44,536.94 306.77,537.02 307.11,537.08 307.44,537.13 307.77,537.17 308.11,537.2 308.44,537.22 308.78,537.22 309.11,537.21 309.45,537.19 309.78,537.15 310.12,537.11 310.45,537.05 310.79,536.97 311.12,536.89 311.46,536.79 311.79,536.69 312.13,536.57 312.46,536.43 312.79,536.29 313.13,536.14 313.46,535.97 313.8,535.79 314.13,535.6 314.47,535.4 314.8,535.18 315.14,534.96 315.47,534.73 315.81,534.48 316.14,534.23 316.48,533.96 316.81,533.68 317.15,533.4 317.48,533.1 317.81,532.79 318.15,532.48 318.48,532.15 318.82,531.82 319.15,531.47 319.49,531.12 319.82,530.76 320.16,530.39 320.49,530.01 320.83,529.63 321.16,529.24 321.5,528.84 321.83,528.43 322.17,528.01 322.5,527.59 322.83,527.17 323.17,526.73 323.5,526.29 323.84,525.85 324.17,525.4 324.51,524.94 324.84,524.48 325.18,524.02 325.51,523.55 325.85,523.07 326.18,522.6 326.52,522.12 326.85,521.63 327.19,521.15 327.52,520.66 327.85,520.17 328.19,519.67 328.52,519.18 328.86,518.68 329.19,518.18 329.53,517.68 329.86,517.18 330.2,516.68 330.53,516.18 330.87,515.68 331.2,515.18 331.54,514.69 331.87,514.19 332.21,513.69 332.54,513.2 332.87,512.71 333.21,512.22 333.54,511.73 333.88,511.24 334.21,510.76 334.55,510.29 334.88,509.81 335.22,509.34 335.55,508.87 335.89,508.41 336.22,507.96 336.56,507.5 336.89,507.06 337.23,506.61 337.56,506.18 337.89,505.75 338.23,505.33 338.56,504.91 338.9,504.5 339.23,504.09 339.57,503.7 339.9,503.31 340.24,502.93 340.57,502.55 340.91,502.19 341.24,501.83 341.58,501.48 341.91,501.14 342.25,500.81 342.58,500.49 342.91,500.17 343.25,499.87 343.58,499.58 343.92,499.29 344.25,499.02 344.59,498.75 344.92,498.49 345.26,498.25 345.59,498.01 345.93,497.79 346.26,497.58 346.6,497.37 346.93,497.18 347.27,497 347.6,496.83 347.93,496.67 348.27,496.52 348.6,496.39 348.94,496.26 349.27,496.15 349.61,496.05 349.94,495.95 350.28,495.87 350.61,495.81 350.95,495.75 351.28,495.71 351.62,495.67 351.95,495.65 352.29,495.64 352.62,495.64 352.95,495.65 353.29,495.68 353.62,495.72 353.96,495.76 354.29,495.82 354.63,495.89 354.96,495.98 355.3,496.07 355.63,496.17 355.97,496.29 356.3,496.42 356.64,496.55 356.97,496.7 357.31,496.86 357.64,497.03 357.97,497.21 358.31,497.41 358.64,497.61 358.98,497.82 359.31,498.04 359.65,498.27 359.98,498.52 360.32,498.77 360.65,499.03 360.99,499.3 361.32,499.58 361.66,499.87 361.99,500.16 362.33,500.47 362.66,500.79 362.99,501.11 363.33,501.44 363.66,501.78 364,502.12 364.33,502.48 364.67,502.84 365,503.21 365.34,503.58 365.67,503.97 366.01,504.35 366.34,504.75 366.68,505.15 367.01,505.55 367.35,505.97 367.68,506.38 368.01,506.8 368.35,507.23 368.68,507.66 369.02,508.09 369.35,508.53 369.69,508.98 370.02,509.42 370.36,509.87 370.69,510.32 371.03,510.78 371.36,511.23 371.7,511.69 372.03,512.15 372.37,512.61 372.7,513.08 373.03,513.54 373.37,514.01 373.7,514.47 374.04,514.94 374.37,515.4 374.71,515.87 375.04,516.33 375.38,516.8 375.71,517.26 376.05,517.72 376.38,518.18 376.72,518.64 377.05,519.1 377.39,519.55 377.72,520 378.05,520.45 378.39,520.89 378.72,521.33 379.06,521.77 379.39,522.2 379.73,522.63 380.06,523.06 380.4,523.48 380.73,523.89 381.07,524.3 381.4,524.7 381.74,525.1 382.07,525.49 382.41,525.88 382.74,526.26 383.07,526.64 383.41,527 383.74,527.36 384.08,527.72 384.41,528.06 384.75,528.4 385.08,528.73 385.42,529.05 385.75,529.37 386.09,529.67 386.42,529.97 386.76,530.26 387.09,530.54 387.43,530.81 387.76,531.07 388.09,531.33 388.43,531.57 388.76,531.8 389.1,532.03 389.43,532.24 389.77,532.45 390.1,532.65 390.44,532.83 390.77,533.01 391.11,533.17 391.44,533.33 391.78,533.47 392.11,533.61 392.45,533.73 392.78,533.84 393.11,533.95 393.45,534.04 393.78,534.12 394.12,534.19 394.45,534.25 394.79,534.3 395.12,534.34 395.46,534.36 395.79,534.38 396.13,534.38 396.46,534.38 396.8,534.36 397.13,534.34 397.47,534.3 397.8,534.25 398.13,534.19 398.47,534.12 398.8,534.04 399.14,533.95 399.47,533.85 399.81,533.74 400.14,533.62 400.48,533.48 400.81,533.34 401.15,533.19 401.48,533.03 401.82,532.86 402.15,532.67 402.49,532.48 402.82,532.28 403.15,532.07 403.49,531.85 403.82,531.62 404.16,531.39 404.49,531.14 404.83,530.88 405.16,530.62 405.5,530.35 405.83,530.07 406.17,529.78 406.5,529.48 406.84,529.18 407.17,528.87 407.51,528.55 407.84,528.23 408.17,527.89 408.51,527.56 408.84,527.21 409.18,526.86 409.51,526.5 409.85,526.14 410.18,525.77 410.52,525.39 410.85,525.01 411.19,524.63 411.52,524.24 411.86,523.84 412.19,523.44 412.53,523.04 412.86,522.64 413.19,522.23 413.53,521.81 413.86,521.4 414.2,520.98 414.53,520.56 414.87,520.13 415.2,519.7 415.54,519.28 415.87,518.85 416.21,518.42 416.54,517.98 416.88,517.55 417.21,517.12 417.55,516.68 417.88,516.25 418.21,515.81 418.55,515.38 418.88,514.95 419.22,514.52 419.55,514.09 419.89,513.66 420.22,513.23 420.56,512.8 420.89,512.38 421.23,511.96 421.56,511.54 421.9,511.12 422.23,510.71 422.57,510.3 422.9,509.89 423.23,509.49 423.57,509.09 423.9,508.7 424.24,508.31 424.57,507.93 424.91,507.55 425.24,507.17 425.58,506.8 425.91,506.44 426.25,506.08 426.58,505.73 426.92,505.38 427.25,505.04 427.59,504.71 427.92,504.38 428.25,504.06 428.59,503.75 428.92,503.44 429.26,503.15 429.59,502.86 429.93,502.57 430.26,502.3 430.6,502.03 430.93,501.77 431.27,501.52 431.6,501.28 431.94,501.05 432.27,500.83 432.61,500.61 432.94,500.4 433.27,500.21 433.61,500.02 433.94,499.84 434.28,499.67 434.61,499.51 434.95,499.36 435.28,499.22 435.62,499.09 435.95,498.96 436.29,498.85 436.62,498.75 436.96,498.66 437.29,498.58 437.63,498.5 437.96,498.44 438.29,498.39 438.63,498.35 438.96,498.32 439.3,498.3 439.63,498.28 439.97,498.28 440.3,498.29 440.64,498.31 440.97,498.34 441.31,498.38 441.64,498.42 441.98,498.48 442.31,498.55 442.65,498.63 442.98,498.72 443.31,498.81 443.65,498.92 443.98,499.04 444.32,499.16 444.65,499.3 444.99,499.45 445.32,499.6 445.66,499.76 445.99,499.94 446.33,500.12 446.66,500.31 447,500.51 447.33,500.71 447.67,500.93 448,501.15" fill="none" stroke="#000" stroke-width="2.8" stroke-linejoin="round"/>
<polyline points="46.4,632.39 46.57,632.28 46.73,632.15 46.9,631.99 47.07,631.81 47.24,631.59 47.4,631.35 47.57,631.07 47.74,630.77 47.91,630.45 48.07,630.09 48.24,629.71 48.41,629.3 48.58,628.87 48.74,628.41 48.91,627.93 49.08,627.42 49.24,626.89 49.41,626.33 49.58,625.75 49.75,625.15 49.91,624.52 50.08,623.87 50.25,623.2 50.42,622.52 50.58,621.81 50.75,621.08 50.92,620.33 51.09,619.57 51.25,618.79 51.42,617.99 51.59,617.17 51.75,616.34 51.92,615.5 52.09,614.64 52.26,613.77 52.42,612.89 52.59,611.99 52.76,611.09 52.93,610.17 53.09,609.25 53.26,608.32 53.43,607.38 53.6,606.44 53.76,605.48 53.93,604.53 54.1,603.57 54.26,602.61 54.43,601.64 54.6,600.67 54.77,599.71 54.93,598.74 55.1,597.77 55.27,596.81 55.44,595.85 55.6,594.89 55.77,593.94 55.94,592.99 56.11,592.05 56.27,591.12 56.44,590.19 56.61,589.28 56.77,588.37 56.94,587.47 57.11,586.58 57.28,585.71 57.44,584.85 57.61,584 57.78,583.16 57.95,582.34 58.11,581.54 58.28,580.75 58.45,579.98 58.62,579.23 58.78,578.49 58.95,577.78 59.12,577.08 59.28,576.4 59.45,575.75 59.62,575.11 59.79,574.5 59.95,573.91 60.12,573.34 60.29,572.8 60.46,572.28 60.62,571.79 60.79,571.32 60.96,570.87 61.13,570.45 61.29,570.06 61.46,569.69 61.63,569.35 61.79,569.03 61.96,568.75 62.13,568.49 62.3,568.26 62.46,568.05 62.63,567.87 62.8,567.73 62.97,567.61 63.13,567.52 63.3,567.45 63.47,567.42 63.64,567.41 63.8,567.43 63.97,567.48 64.14,567.56 64.3,567.67 64.47,567.81 64.64,567.97 64.81,568.16 64.97,568.38 65.14,568.63 65.31,568.9 65.48,569.2 65.64,569.53 65.81,569.89 65.98,570.27 66.15,570.67 66.31,571.1 66.48,571.56 66.65,572.04 66.81,572.55 66.98,573.08 67.15,573.63 67.32,574.21 67.48,574.81 67.65,575.43 67.82,576.07 67.99,576.73 68.15,577.41 68.32,578.11 68.49,578.83 68.66,579.57 68.82,580.32 68.99,581.1 69.16,581.88 69.32,582.69 69.49,583.51 69.66,584.34 69.83,585.18 69.99,586.04 70.16,586.91 70.33,587.79 70.5,588.68 70.66,589.58 70.83,590.49 71,591.41 71.17,592.33 71.33,593.26 71.5,594.2 71.67,595.14 71.83,596.08 72,597.03 72.17,597.98 72.34,598.93 72.5,599.88 72.67,600.83 72.84,601.77 73.01,602.72 73.17,603.66 73.34,604.6 73.51,605.54 73.68,606.47 73.84,607.39 74.01,608.3 74.18,609.21 74.34,610.11 74.51,611 74.68,611.88 74.85,612.75 75.01,613.6 75.18,614.45 75.35,615.28 75.52,616.09 75.68,616.89 75.85,617.68 76.02,618.45 76.19,619.2 76.35,619.94 76.52,620.66 76.69,621.35 76.85,622.03 77.02,622.69 77.19,623.33 77.36,623.95 77.52,624.54 77.69,625.12 77.86,625.67 78.03,626.2 78.19,626.7 78.36,627.18 78.53,627.64 78.7,628.07 78.86,628.48 79.03,628.86 79.2,629.21 79.36,629.54 79.53,629.84 79.7,630.12 79.87,630.36 80.03,630.59 80.2,630.78 80.37,630.95 80.54,631.08 80.7,631.2 80.87,631.28 81.04,631.33 81.21,631.36 81.37,631.36 81.54,631.33 81.71,631.27 81.87,631.19 82.04,631.08 82.21,630.94 82.38,630.77 82.54,630.57 82.71,630.35 82.88,630.1 83.05,629.83 83.21,629.52 83.38,629.2 83.55,628.84 83.72,628.46 83.88,628.05 84.05,627.62 84.22,627.17 84.38,626.69 84.55,626.19 84.72,625.66 84.89,625.11 85.05,624.54 85.22,623.95 85.39,623.34 85.56,622.7 85.72,622.05 85.89,621.37 86.06,620.68 86.23,619.97 86.39,619.24 86.56,618.49 86.73,617.73 86.89,616.95 87.06,616.16 87.23,615.35 87.4,614.53 87.56,613.7 87.73,612.85 87.9,611.99 88.07,611.12 88.23,610.25 88.4,609.36 88.57,608.47 88.74,607.56 88.9,606.65 89.07,605.74 89.24,604.82 89.4,603.9 89.57,602.97 89.74,602.04 89.91,601.11 90.07,600.17 90.24,599.24 90.41,598.31 90.58,597.38 90.74,596.45 90.91,595.52 91.08,594.6 91.25,593.68 91.41,592.77 91.58,591.87 91.75,590.97 91.91,590.08 92.08,589.2 92.25,588.33 92.42,587.47 92.58,586.62 92.75,585.78 92.92,584.96 93.09,584.15 93.25,583.35 93.42,582.56 93.59,581.8 93.76,581.04 93.92,580.31 94.09,579.59 94.26,578.89 94.42,578.21 94.59,577.55 94.76,576.9 94.93,576.28 95.09,575.68 95.26,575.1 95.43,574.54 95.6,574.01 95.76,573.49 95.93,573 96.1,572.54 96.27,572.1 96.43,571.68 96.6,571.29 96.77,570.92 96.93,570.58 97.1,570.26 97.27,569.97 97.44,569.71 97.6,569.47 97.77,569.26 97.94,569.08 98.11,568.92 98.27,568.79 98.44,568.69 98.61,568.61 98.78,568.57 98.94,568.55 99.11,568.55 99.28,568.59 99.44,568.65 99.61,568.74 99.78,568.86 99.95,569 100.11,569.18 100.28,569.37 100.45,569.6 100.62,569.85 100.78,570.13 100.95,570.43 101.12,570.76 101.29,571.12 101.45,571.49 101.62,571.9 101.79,572.33 101.95,572.78 102.12,573.26 102.29,573.76 102.46,574.28 102.62,574.82 102.79,575.39 102.96,575.98 103.13,576.59 103.29,577.21 103.46,577.86 103.63,578.53 103.8,579.21 103.96,579.92 104.13,580.64 104.3,581.37 104.46,582.13 104.63,582.9 104.8,583.68 104.97,584.48 105.13,585.28 105.3,586.11 105.47,586.94 105.64,587.79 105.8,588.64 105.97,589.5 106.14,590.38 106.31,591.26 106.47,592.15 106.64,593.04 106.81,593.94 106.97,594.85 107.14,595.75 107.31,596.67 107.48,597.58 107.64,598.5 107.81,599.41 107.98,600.33 108.15,601.24 108.31,602.16 108.48,603.07 108.65,603.98 108.82,604.88 108.98,605.78 109.15,606.67 109.32,607.56 109.48,608.44 109.65,609.31 109.82,610.17 109.99,611.03 110.15,611.87 110.32,612.7 110.49,613.52 110.66,614.33 110.82,615.12 110.99,615.9 111.16,616.67 111.33,617.42 111.49,618.15 111.66,618.87 111.83,619.57 111.99,620.26 112.16,620.92 112.33,621.57 112.5,622.19 112.66,622.8 112.83,623.38 113,623.95 113.17,624.49 113.33,625.01 113.5,625.51 113.67,625.99 113.84,626.44 114,626.87 114.17,627.27 114.34,627.65 114.5,628 114.67,628.33 114.84,628.64 115.01,628.92 115.17,629.17 115.34,629.39 115.51,629.59 115.68,629.77 115.84,629.91 116.01,630.04 116.18,630.13 116.35,630.2 116.51,630.23 116.68,630.25 116.85,630.23 117.01,630.19 117.18,630.12 117.35,630.03 117.52,629.91 117.68,629.76 117.85,629.58 118.02,629.38 118.19,629.15 118.35,628.9 118.52,628.62 118.69,628.32 118.86,627.99 119.02,627.63 119.19,627.25 119.36,626.85 119.52,626.42 119.69,625.97 119.86,625.5 120.03,625 120.19,624.48 120.36,623.94 120.53,623.38 120.7,622.8 120.86,622.2 121.03,621.58 121.2,620.94 121.37,620.28 121.53,619.6 121.7,618.9 121.87,618.19 122.03,617.46 122.2,616.72 122.37,615.96 122.54,615.19 122.7,614.4 122.87,613.61 123.04,612.8 123.21,611.97 123.37,611.14 123.54,610.3 123.71,609.45 123.88,608.59 124.04,607.72 124.21,606.85 124.38,605.97 124.54,605.08 124.71,604.19 124.88,603.3 125.05,602.4 125.21,601.5 125.38,600.6 125.55,599.7 125.72,598.8 125.88,597.91 126.05,597.01 126.22,596.11 126.39,595.22 126.55,594.34 126.72,593.46 126.89,592.58 127.05,591.71 127.22,590.85 127.39,589.99 127.56,589.15 127.72,588.31 127.89,587.49 128.06,586.67 128.23,585.87 128.39,585.08 128.56,584.31 128.73,583.54 128.9,582.79 129.06,582.06 129.23,581.34 129.4,580.64 129.56,579.96 129.73,579.29 129.9,578.64 130.07,578.01 130.23,577.4 130.4,576.81 130.57,576.24 130.74,575.69 130.9,575.17 131.07,574.66 131.24,574.18 131.41,573.72 131.57,573.28 131.74,572.86 131.91,572.47 132.07,572.11 132.24,571.76 132.41,571.45 132.58,571.15 132.74,570.89 132.91,570.64 133.08,570.43 133.25,570.24 133.41,570.07 133.58,569.94 133.75,569.83 133.92,569.74 134.08,569.68 134.25,569.65 134.42,569.64 134.58,569.66 134.75,569.71 134.92,569.78 135.09,569.88 135.25,570.01 135.42,570.16 135.59,570.34 135.76,570.55 135.92,570.78 136.09,571.03 136.26,571.31 136.43,571.62 136.59,571.95 136.76,572.3 136.93,572.68 137.09,573.08 137.26,573.51 137.43,573.95 137.6,574.43 137.76,574.92 137.93,575.43 138.1,575.97 138.27,576.53 138.43,577.1 138.6,577.7 138.77,578.32 138.94,578.95 139.1,579.6 139.27,580.27 139.44,580.96 139.6,581.66 139.77,582.38 139.94,583.11 140.11,583.86 140.27,584.62 140.44,585.4 140.61,586.19 140.78,586.99 140.94,587.79 141.11,588.61 141.28,589.44 141.45,590.28 141.61,591.13 141.78,591.98 141.95,592.84 142.11,593.71 142.28,594.58 142.45,595.45 142.62,596.33 142.78,597.21 142.95,598.1 143.12,598.98 143.29,599.86 143.45,600.75 143.62,601.63 143.79,602.51 143.96,603.39 144.12,604.26 144.29,605.13 144.46,606 144.62,606.85 144.79,607.71 144.96,608.55 145.13,609.39 145.29,610.22 145.46,611.03 145.63,611.84 145.8,612.64 145.96,613.42 146.13,614.2 146.3,614.96 146.47,615.7 146.63,616.43 146.8,617.15 146.97,617.85 147.13,618.54 147.3,619.2 147.47,619.85 147.64,620.49 147.8,621.1 147.97,621.69 148.14,622.27 148.31,622.82 148.47,623.36 148.64,623.87 148.81,624.36 148.98,624.83 149.14,625.28 149.31,625.7 149.48,626.11 149.64,626.48 149.81,626.84 149.98,627.17 150.15,627.47 150.31,627.75 150.48,628.01 150.65,628.24 150.82,628.45 150.98,628.63 151.15,628.78 151.32,628.91 151.49,629.01 151.65,629.09 151.82,629.14 151.99,629.17 152.15,629.17 152.32,629.14 152.49,629.09 152.66,629.01 152.82,628.9 152.99,628.77 153.16,628.62 153.33,628.44 153.49,628.23 153.66,628 153.83,627.74 154,627.46 154.16,627.15 154.33,626.82 154.5,626.47 154.66,626.09 154.83,625.69 155,625.27 155.17,624.82 155.33,624.35 155.5,623.86 155.67,623.35 155.84,622.82 156,622.27 156.17,621.7 156.34,621.11 156.51,620.5 156.67,619.87 156.84,619.23 157.01,618.56 157.17,617.88 157.34,617.19 157.51,616.48 157.68,615.76 157.84,615.02 158.01,614.27 158.18,613.5 158.35,612.73 158.51,611.94 158.68,611.14 158.85,610.33 159.02,609.52 159.18,608.69 159.35,607.86 159.52,607.02 159.68,606.17 159.85,605.32 160.02,604.46 160.19,603.6 160.35,602.74 160.52,601.87 160.69,601.01 160.86,600.14 161.02,599.27 161.19,598.4 161.36,597.54 161.53,596.67 161.69,595.81 161.86,594.95 162.03,594.1 162.19,593.25 162.36,592.41 162.53,591.57 162.7,590.75 162.86,589.93 163.03,589.12 163.2,588.31 163.37,587.52 163.53,586.74 163.7,585.98 163.87,585.22 164.04,584.48 164.2,583.75 164.37,583.03 164.54,582.33 164.7,581.65 164.87,580.98 165.04,580.33 165.21,579.69 165.37,579.08 165.54,578.48 165.71,577.9 165.88,577.34 166.04,576.8 166.21,576.28 166.38,575.78 166.55,575.3 166.71,574.85 166.88,574.42 167.05,574 167.21,573.62 167.38,573.25 167.55,572.91 167.72,572.59 167.88,572.3 168.05,572.03 168.22,571.78 168.39,571.56 168.55,571.36 168.72,571.19 168.89,571.05 169.06,570.93 169.22,570.83 169.39,570.76 169.56,570.72 169.72,570.7 169.89,570.71 170.06,570.74 170.23,570.8 170.39,570.88 170.56,570.99 170.73,571.13 170.9,571.29 171.06,571.47 171.23,571.68 171.4,571.91 171.57,572.17 171.73,572.45 171.9,572.76 172.07,573.09 172.23,573.44 172.4,573.82 172.57,574.22 172.74,574.64 172.9,575.08 173.07,575.55 173.24,576.04 173.41,576.54 173.57,577.07 173.74,577.62 173.91,578.18 174.08,578.77 174.24,579.37 174.41,579.99 174.58,580.63 174.74,581.28 174.91,581.95 175.08,582.64 175.25,583.34 175.41,584.06 175.58,584.79 175.75,585.53 175.92,586.28 176.08,587.05 176.25,587.82 176.42,588.61 176.59,589.4 176.75,590.21 176.92,591.02 177.09,591.84 177.25,592.67 177.42,593.5 177.59,594.34 177.76,595.18 177.92,596.03 178.09,596.87 178.26,597.72 178.43,598.58 178.59,599.43 178.76,600.28 178.93,601.14 179.1,601.99 179.26,602.83 179.43,603.68 179.6,604.52 179.76,605.36 179.93,606.19 180.1,607.01 180.27,607.83 180.43,608.64 180.6,609.45 180.77,610.24 180.94,611.03 181.1,611.8 181.27,612.56 181.44,613.31 181.61,614.05 181.77,614.78 181.94,615.49 182.11,616.19 182.27,616.88 182.44,617.54 182.61,618.2 182.78,618.83 182.94,619.45 183.11,620.05 183.28,620.63 183.45,621.2 183.61,621.74 183.78,622.27 183.95,622.77 184.12,623.26 184.28,623.72 184.45,624.17 184.62,624.59 184.78,624.98 184.95,625.36 185.12,625.71 185.29,626.04 185.45,626.35 185.62,626.63 185.79,626.89 185.96,627.13 186.12,627.34 186.29,627.52 186.46,627.69 186.63,627.82 186.79,627.93 186.96,628.02 187.13,628.08 187.29,628.12 187.46,628.13 187.63,628.12 187.8,628.08 187.96,628.02 188.13,627.93 188.3,627.81 188.47,627.68 188.63,627.51 188.8,627.33 188.97,627.11 189.14,626.88 189.3,626.62 189.47,626.34 189.64,626.03 189.8,625.7 189.97,625.35 190.14,624.97 190.31,624.57 190.47,624.15 190.64,623.71 190.81,623.25 190.98,622.77 191.14,622.27 191.31,621.74 191.48,621.2 191.65,620.64 191.81,620.06 191.98,619.46 192.15,618.85 192.31,618.22 192.48,617.57 192.65,616.91 192.82,616.23 192.98,615.54 193.15,614.83 193.32,614.12 193.49,613.38 193.65,612.64 193.82,611.89 193.99,611.12 194.16,610.35 194.32,609.56 194.49,608.77 194.66,607.97 194.82,607.16 194.99,606.35 195.16,605.53 195.33,604.71 195.49,603.88 195.66,603.05 195.83,602.21 196,601.38 196.16,600.54 196.33,599.7 196.5,598.86 196.67,598.03 196.83,597.19 197,596.36 197.17,595.53 197.33,594.71 197.5,593.89 197.67,593.07 197.84,592.26 198,591.46 198.17,590.66 198.34,589.88 198.51,589.1 198.67,588.33 198.84,587.57 199.01,586.83 199.18,586.09 199.34,585.37 199.51,584.66 199.68,583.96 199.84,583.28 200.01,582.61 200.18,581.96 200.35,581.32 200.51,580.7 200.68,580.1 200.85,579.51 201.02,578.94 201.18,578.39 201.35,577.86 201.52,577.35 201.69,576.86 201.85,576.39 202.02,575.94 202.19,575.51 202.35,575.1 202.52,574.72 202.69,574.35 202.86,574.01 203.02,573.69 203.19,573.4 203.36,573.13 203.53,572.88 203.69,572.65 203.86,572.45 204.03,572.28 204.2,572.12 204.36,571.99 204.53,571.89 204.7,571.81 204.86,571.76 205.03,571.73 205.2,571.72 205.37,571.74 205.53,571.78 205.7,571.85 205.87,571.95 206.04,572.06 206.2,572.2 206.37,572.37 206.54,572.56 206.71,572.77 206.87,573.01 207.04,573.27 207.21,573.56 207.37,573.86 207.54,574.19 207.71,574.55 207.88,574.92 208.04,575.32 208.21,575.73 208.38,576.17 208.55,576.63 208.71,577.11 208.88,577.61 209.05,578.13 209.22,578.66 209.38,579.22 209.55,579.79 209.72,580.38 209.88,580.99 210.05,581.61 210.22,582.25 210.39,582.91 210.55,583.58 210.72,584.26 210.89,584.96 211.06,585.67 211.22,586.39 211.39,587.12 211.56,587.86 211.73,588.62 211.89,589.38 212.06,590.15 212.23,590.93 212.39,591.72 212.56,592.51 212.73,593.31 212.9,594.12 213.06,594.93 213.23,595.75 213.4,596.56 213.57,597.38 213.73,598.2 213.9,599.03 214.07,599.85 214.24,600.67 214.4,601.49 214.57,602.31 214.74,603.13 214.9,603.94 215.07,604.75 215.24,605.56 215.41,606.36 215.57,607.15 215.74,607.94 215.91,608.72 216.08,609.49 216.24,610.25 216.41,611 216.58,611.74 216.75,612.47 216.91,613.19 217.08,613.9 217.25,614.59 217.41,615.27 217.58,615.94 217.75,616.59 217.92,617.23 218.08,617.85 218.25,618.46 218.42,619.05 218.59,619.62 218.75,620.17 218.92,620.71 219.09,621.22 219.26,621.72 219.42,622.2 219.59,622.65 219.76,623.09 219.92,623.51 220.09,623.9 220.26,624.28 220.43,624.63 220.59,624.96 220.76,625.27 220.93,625.55 221.1,625.81 221.26,626.05 221.43,626.26 221.6,626.46 221.77,626.62 221.93,626.77 222.1,626.89 222.27,626.98 222.43,627.06 222.6,627.1 222.77,627.13 222.94,627.13 223.1,627.1 223.27,627.05 223.44,626.98 223.61,626.88 223.77,626.76 223.94,626.62 224.11,626.45 224.28,626.25 224.44,626.04 224.61,625.8 224.78,625.54 224.94,625.25 225.11,624.94 225.28,624.61 225.45,624.26 225.61,623.89 225.78,623.5 225.95,623.08 226.12,622.65 226.28,622.19 226.45,621.71 226.62,621.22 226.79,620.71 226.95,620.17 227.12,619.62 227.29,619.06 227.45,618.47 227.62,617.87 227.79,617.26 227.96,616.62 228.12,615.98 228.29,615.32 228.46,614.64 228.63,613.96 228.79,613.26 228.96,612.54 229.13,611.82 229.3,611.09 229.46,610.35 229.63,609.59 229.8,608.83 229.96,608.07 230.13,607.29 230.3,606.51 230.47,605.72 230.63,604.93 230.8,604.13 230.97,603.33 231.14,602.53 231.3,601.72 231.47,600.91 231.64,600.11 231.81,599.3 231.97,598.49 232.14,597.68 232.31,596.88 232.47,596.08 232.64,595.28 232.81,594.48 232.98,593.7 233.14,592.91 233.31,592.13 233.48,591.36 233.65,590.6 233.81,589.85 233.98,589.1 234.15,588.36 234.32,587.64 234.48,586.92 234.65,586.22 234.82,585.53 234.98,584.85 235.15,584.18 235.32,583.53 235.49,582.9 235.65,582.27 235.82,581.67 235.99,581.08 236.16,580.5 236.32,579.95 236.49,579.41 236.66,578.89 236.83,578.38 236.99,577.9 237.16,577.44 237.33,576.99 237.49,576.57 237.66,576.16 237.83,575.78 238,575.42 238.16,575.08 238.33,574.76 238.5,574.46 238.67,574.19 238.83,573.94 239,573.71 239.17,573.5 239.34,573.32 239.5,573.16 239.67,573.03 239.84,572.92 240,572.83 240.17,572.76 240.34,572.72 240.51,572.7 240.67,572.71 240.84,572.74 241.01,572.8 241.18,572.87 241.34,572.98 241.51,573.1 241.68,573.25 241.85,573.42 242.01,573.62 242.18,573.83 242.35,574.07 242.51,574.34 242.68,574.62 242.85,574.93 243.02,575.26 243.18,575.61 243.35,575.98 243.52,576.37 243.69,576.79 243.85,577.22 244.02,577.67 244.19,578.14 244.36,578.63 244.52,579.14 244.69,579.67 244.86,580.21 245.02,580.78 245.19,581.35 245.36,581.95 245.53,582.56 245.69,583.18 245.86,583.82 246.03,584.47 246.2,585.14 246.36,585.82 246.53,586.51 246.7,587.21 246.87,587.92 247.03,588.64 247.2,589.37 247.37,590.11 247.53,590.86 247.7,591.62 247.87,592.38 248.04,593.15 248.2,593.93 248.37,594.71 248.54,595.49 248.71,596.28 248.87,597.07 249.04,597.86 249.21,598.65 249.38,599.45 249.54,600.24 249.71,601.03 249.88,601.83 250.04,602.62 250.21,603.4 250.38,604.19 250.55,604.96 250.71,605.74 250.88,606.51 251.05,607.27 251.22,608.02 251.38,608.77 251.55,609.51 251.72,610.24 251.89,610.96 252.05,611.67 252.22,612.37 252.39,613.06 252.55,613.73 252.72,614.4 252.89,615.05 253.06,615.69 253.22,616.31 253.39,616.91 253.56,617.51 253.73,618.08 253.89,618.64 254.06,619.18 254.23,619.71 254.4,620.22 254.56,620.71 254.73,621.18 254.9,621.63 255.06,622.06 255.23,622.47 255.4,622.86 255.57,623.23 255.73,623.58 255.9,623.91 256.07,624.22 256.24,624.5 256.4,624.77 256.57,625.01 256.74,625.23 256.91,625.42 257.07,625.6 257.24,625.75 257.41,625.88 257.57,625.98 257.74,626.06 257.91,626.12 258.08,626.15 258.24,626.16 258.41,626.15 258.58,626.11 258.75,626.06 258.91,625.97 259.08,625.87 259.25,625.74 259.42,625.59 259.58,625.41 259.75,625.22 259.92,625 260.08,624.75 260.25,624.49 260.42,624.21 260.59,623.9 260.75,623.57 260.92,623.22 261.09,622.85 261.26,622.46 261.42,622.05 261.59,621.62 261.76,621.17 261.93,620.7 262.09,620.22 262.26,619.71 262.43,619.19 262.59,618.65 262.76,618.09 262.93,617.52 263.1,616.94 263.26,616.33 263.43,615.72 263.6,615.09 263.77,614.44 263.93,613.79 264.1,613.12 264.27,612.44 264.44,611.74 264.6,611.04 264.77,610.33 264.94,609.61 265.1,608.88 265.27,608.14 265.44,607.4 265.61,606.65 265.77,605.89 265.94,605.13 266.11,604.36 266.28,603.59 266.44,602.81 266.61,602.04 266.78,601.26 266.95,600.48 267.11,599.7 267.28,598.92 267.45,598.14 267.61,597.36 267.78,596.59 267.95,595.82 268.12,595.05 268.28,594.29 268.45,593.53 268.62,592.77 268.79,592.03 268.95,591.29 269.12,590.56 269.29,589.83 269.46,589.12 269.62,588.41 269.79,587.72 269.96,587.03 270.12,586.36 270.29,585.7 270.46,585.05 270.63,584.41 270.79,583.79 270.96,583.18 271.13,582.59 271.3,582.01 271.46,581.45 271.63,580.91 271.8,580.38 271.97,579.87 272.13,579.37 272.3,578.9 272.47,578.44 272.63,578 272.8,577.58 272.97,577.18 273.14,576.8 273.3,576.44 273.47,576.11 273.64,575.79 273.81,575.49 273.97,575.22 274.14,574.96 274.31,574.73 274.48,574.52 274.64,574.34 274.81,574.17 274.98,574.03 275.14,573.91 275.31,573.81 275.48,573.74 275.65,573.69 275.81,573.66 275.98,573.65 276.15,573.67 276.32,573.71 276.48,573.78 276.65,573.86 276.82,573.97 276.99,574.11 277.15,574.26 277.32,574.44 277.49,574.64 277.65,574.86 277.82,575.1 277.99,575.36 278.16,575.65 278.32,575.96 278.49,576.29 278.66,576.63 278.83,577 278.99,577.39 279.16,577.8 279.33,578.23 279.5,578.67 279.66,579.14 279.83,579.62 280,580.12 280.16,580.63 280.33,581.17 280.5,581.72 280.67,582.28 280.83,582.86 281,583.46 281.17,584.07 281.34,584.69 281.5,585.33 281.67,585.97 281.84,586.63 282.01,587.31 282.17,587.99 282.34,588.68 282.51,589.38 282.67,590.09 282.84,590.81 283.01,591.54 283.18,592.27 283.34,593.01 283.51,593.75 283.68,594.5 283.85,595.26 284.01,596.02 284.18,596.78 284.35,597.54 284.52,598.31 284.68,599.07 284.85,599.84 285.02,600.6 285.18,601.37 285.35,602.13 285.52,602.89 285.69,603.65 285.85,604.4 286.02,605.15 286.19,605.9 286.36,606.63 286.52,607.37 286.69,608.09 286.86,608.81 287.03,609.52 287.19,610.22 287.36,610.91 287.53,611.59 287.69,612.26 287.86,612.92 288.03,613.56 288.2,614.2 288.36,614.82 288.53,615.42 288.7,616.02 288.87,616.59 289.03,617.16 289.2,617.71 289.37,618.24 289.54,618.75 289.7,619.25 289.87,619.73 290.04,620.19 290.2,620.64 290.37,621.06 290.54,621.47 290.71,621.86 290.87,622.23 291.04,622.57 291.21,622.9 291.38,623.21 291.54,623.49 291.71,623.76 291.88,624 292.05,624.23 292.21,624.43 292.38,624.6 292.55,624.76 292.71,624.89 292.88,625.01 293.05,625.09 293.22,625.16 293.38,625.21 293.55,625.23 293.72,625.23 293.89,625.2 294.05,625.16 294.22,625.09 294.39,625 294.56,624.89 294.72,624.75 294.89,624.59 295.06,624.41 295.22,624.21 295.39,623.99 295.56,623.75 295.73,623.48 295.89,623.2 296.06,622.89 296.23,622.56 296.4,622.22 296.56,621.85 296.73,621.46 296.9,621.06 297.07,620.63 297.23,620.19 297.4,619.73 297.57,619.25 297.73,618.76 297.9,618.24 298.07,617.72 298.24,617.17 298.4,616.61 298.57,616.04 298.74,615.45 298.91,614.85 299.07,614.23 299.24,613.61 299.41,612.97 299.58,612.32 299.74,611.65 299.91,610.98 300.08,610.3 300.24,609.61 300.41,608.91 300.58,608.2 300.75,607.49 300.91,606.76 301.08,606.04 301.25,605.3 301.42,604.57 301.58,603.82 301.75,603.08 301.92,602.33 302.09,601.58 302.25,600.83 302.42,600.08 302.59,599.32 302.75,598.57 302.92,597.82 303.09,597.07 303.26,596.33 303.42,595.58 303.59,594.84 303.76,594.11 303.93,593.38 304.09,592.66 304.26,591.94 304.43,591.23 304.6,590.53 304.76,589.83 304.93,589.15 305.1,588.47 305.26,587.81 305.43,587.15 305.6,586.51 305.77,585.87 305.93,585.26 306.1,584.65 306.27,584.06 306.44,583.48 306.6,582.91 306.77,582.36 306.94,581.83 307.11,581.31 307.27,580.81 307.44,580.32 307.61,579.86 307.77,579.41 307.94,578.97 308.11,578.56 308.28,578.17 308.44,577.79 308.61,577.43 308.78,577.1 308.95,576.78 309.11,576.48 309.28,576.21 309.45,575.95 309.62,575.72 309.78,575.51 309.95,575.32 310.12,575.15 310.28,575 310.45,574.87 310.62,574.77 310.79,574.68 310.95,574.62 311.12,574.59 311.29,574.57 311.46,574.58 311.62,574.61 311.79,574.66 311.96,574.73 312.13,574.82 312.29,574.94 312.46,575.08 312.63,575.24 312.79,575.42 312.96,575.62 313.13,575.85 313.3,576.09 313.46,576.36 313.63,576.64 313.8,576.95 313.97,577.27 314.13,577.62 314.3,577.99 314.47,578.37 314.64,578.77 314.8,579.19 314.97,579.63 315.14,580.09 315.3,580.56 315.47,581.05 315.64,581.56 315.81,582.08 315.97,582.62 316.14,583.17 316.31,583.74 316.48,584.32 316.64,584.92 316.81,585.52 316.98,586.14 317.15,586.77 317.31,587.42 317.48,588.07 317.65,588.73 317.81,589.4 317.98,590.09 318.15,590.78 318.32,591.47 318.48,592.18 318.65,592.89 318.82,593.6 318.99,594.32 319.15,595.05 319.32,595.78 319.49,596.51 319.66,597.25 319.82,597.99 319.99,598.72 320.16,599.46 320.32,600.2 320.49,600.94 320.66,601.68 320.83,602.41 320.99,603.14 321.16,603.87 321.33,604.6 321.5,605.32 321.66,606.03 321.83,606.74 322,607.45 322.17,608.14 322.33,608.83 322.5,609.51 322.67,610.18 322.83,610.84 323,611.49 323.17,612.13 323.34,612.76 323.5,613.38 323.67,613.99 323.84,614.58 324.01,615.16 324.17,615.72 324.34,616.27 324.51,616.81 324.68,617.33 324.84,617.83 325.01,618.32 325.18,618.8 325.34,619.25 325.51,619.69 325.68,620.11 325.85,620.51 326.01,620.89 326.18,621.26 326.35,621.6 326.52,621.93 326.68,622.23 326.85,622.52 327.02,622.79 327.19,623.03 327.35,623.26 327.52,623.46 327.69,623.64 327.85,623.8 328.02,623.94 328.19,624.06 328.36,624.16 328.52,624.23 328.69,624.29 328.86,624.32 329.03,624.33 329.19,624.32 329.36,624.29 329.53,624.23 329.7,624.15 329.86,624.06 330.03,623.94 330.2,623.79 330.36,623.63 330.53,623.45 330.7,623.24 330.87,623.02 331.03,622.77 331.2,622.51 331.37,622.22 331.54,621.92 331.7,621.59 331.87,621.25 332.04,620.88 332.21,620.5 332.37,620.1 332.54,619.68 332.71,619.25 332.87,618.79 333.04,618.32 333.21,617.84 333.38,617.34 333.54,616.82 333.71,616.29 333.88,615.74 334.05,615.18 334.21,614.61 334.38,614.02 334.55,613.42 334.72,612.81 334.88,612.19 335.05,611.55 335.22,610.91 335.38,610.26 335.55,609.59 335.72,608.92 335.89,608.24 336.05,607.56 336.22,606.86 336.39,606.16 336.56,605.46 336.72,604.75 336.89,604.04 337.06,603.32 337.23,602.6 337.39,601.87 337.56,601.15 337.73,600.42 337.89,599.7 338.06,598.97 338.23,598.25 338.4,597.52 338.56,596.8 338.73,596.08 338.9,595.37 339.07,594.66 339.23,593.95 339.4,593.25 339.57,592.56 339.74,591.87 339.9,591.19 340.07,590.51 340.24,589.85 340.4,589.19 340.57,588.54 340.74,587.91 340.91,587.28 341.07,586.66 341.24,586.06 341.41,585.47 341.58,584.89 341.74,584.32 341.91,583.77 342.08,583.24 342.25,582.71 342.41,582.21 342.58,581.71 342.75,581.24 342.91,580.78 343.08,580.33 343.25,579.91 343.42,579.5 343.58,579.11 343.75,578.74 343.92,578.39 344.09,578.05 344.25,577.74 344.42,577.44 344.59,577.16 344.76,576.91 344.92,576.67 345.09,576.46 345.26,576.26 345.42,576.09 345.59,575.94 345.76,575.8 345.93,575.69 346.09,575.6 346.26,575.53 346.43,575.49 346.6,575.46 346.76,575.45 346.93,575.47 347.1,575.51 347.27,575.57 347.43,575.65 347.6,575.75 347.77,575.87 347.93,576.02 348.1,576.18 348.27,576.37 348.44,576.57 348.6,576.8 348.77,577.05 348.94,577.31 349.11,577.6 349.27,577.9 349.44,578.23 349.61,578.57 349.78,578.93 349.94,579.31 350.11,579.71 350.28,580.12 350.44,580.56 350.61,581.01 350.78,581.47 350.95,581.95 351.11,582.45 351.28,582.96 351.45,583.49 351.62,584.03 351.78,584.58 351.95,585.15 352.12,585.73 352.29,586.32 352.45,586.92 352.62,587.54 352.79,588.16 352.95,588.8 353.12,589.44 353.29,590.09 353.46,590.76 353.62,591.42 353.79,592.1 353.96,592.78 354.13,593.47 354.29,594.16 354.46,594.86 354.63,595.56 354.8,596.27 354.96,596.98 355.13,597.69 355.3,598.4 355.46,599.11 355.63,599.83 355.8,600.54 355.97,601.25 356.13,601.96 356.3,602.67 356.47,603.37 356.64,604.08 356.8,604.77 356.97,605.47 357.14,606.15 357.31,606.83 357.47,607.51 357.64,608.18 357.81,608.84 357.97,609.49 358.14,610.13 358.31,610.76 358.48,611.39 358.64,612 358.81,612.6 358.98,613.19 359.15,613.77 359.31,614.33 359.48,614.89 359.65,615.42 359.82,615.95 359.98,616.46 360.15,616.95 360.32,617.43 360.48,617.9 360.65,618.34 360.82,618.77 360.99,619.19 361.15,619.58 361.32,619.96 361.49,620.32 361.66,620.67 361.82,620.99 361.99,621.29 362.16,621.58 362.33,621.85 362.49,622.09 362.66,622.32 362.83,622.53 362.99,622.71 363.16,622.88 363.33,623.02 363.5,623.15 363.66,623.25 363.83,623.34 364,623.4 364.17,623.44 364.33,623.46 364.5,623.46 364.67,623.44 364.84,623.4 365,623.33 365.17,623.25 365.34,623.14 365.5,623.02 365.67,622.87 365.84,622.7 366.01,622.52 366.17,622.31 366.34,622.08 366.51,621.83 366.68,621.57 366.84,621.28 367.01,620.98 367.18,620.66 367.35,620.31 367.51,619.95 367.68,619.58 367.85,619.18 368.01,618.77 368.18,618.34 368.35,617.9 368.52,617.44 368.68,616.96 368.85,616.47 369.02,615.96 369.19,615.44 369.35,614.91 369.52,614.36 369.69,613.8 369.86,613.23 370.02,612.64 370.19,612.05 370.36,611.44 370.52,610.83 370.69,610.2 370.86,609.56 371.03,608.92 371.19,608.27 371.36,607.61 371.53,606.95 371.7,606.27 371.86,605.6 372.03,604.91 372.2,604.23 372.37,603.54 372.53,602.84 372.7,602.15 372.87,601.45 373.03,600.75 373.2,600.05 373.37,599.35 373.54,598.65 373.7,597.95 373.87,597.25 374.04,596.56 374.21,595.87 374.37,595.18 374.54,594.49 374.71,593.82 374.88,593.14 375.04,592.47 375.21,591.81 375.38,591.16 375.54,590.51 375.71,589.87 375.88,589.25 376.05,588.63 376.21,588.02 376.38,587.42 376.55,586.83 376.72,586.25 376.88,585.69 377.05,585.14 377.22,584.6 377.39,584.07 377.55,583.56 377.72,583.06 377.89,582.58 378.05,582.11 378.22,581.66 378.39,581.23 378.56,580.81 378.72,580.41 378.89,580.02 379.06,579.65 379.23,579.3 379.39,578.97 379.56,578.66 379.73,578.36 379.9,578.09 380.06,577.83 380.23,577.59 380.4,577.38 380.56,577.18 380.73,577 380.9,576.84 381.07,576.7 381.23,576.59 381.4,576.49 381.57,576.41 381.74,576.36 381.9,576.32 382.07,576.31 382.24,576.31 382.41,576.34 382.57,576.39 382.74,576.45 382.91,576.54 383.07,576.65 383.24,576.78 383.41,576.93 383.58,577.1 383.74,577.29 383.91,577.49 384.08,577.72 384.25,577.97 384.41,578.24 384.58,578.52 384.75,578.82 384.92,579.15 385.08,579.49 385.25,579.84 385.42,580.22 385.58,580.61 385.75,581.02 385.92,581.44 386.09,581.89 386.25,582.34 386.42,582.81 386.59,583.3 386.76,583.8 386.92,584.32 387.09,584.84 387.26,585.38 387.43,585.94 387.59,586.5 387.76,587.08 387.93,587.67 388.09,588.26 388.26,588.87 388.43,589.49 388.6,590.12 388.76,590.75 388.93,591.39 389.1,592.04 389.27,592.7 389.43,593.36 389.6,594.02 389.77,594.69 389.94,595.37 390.1,596.05 390.27,596.73 390.44,597.42 390.6,598.1 390.77,598.79 390.94,599.48 391.11,600.17 391.27,600.85 391.44,601.54 391.61,602.22 391.78,602.9 391.94,603.58 392.11,604.26 392.28,604.93 392.45,605.59 392.61,606.25 392.78,606.91 392.95,607.56 393.11,608.2 393.28,608.83 393.45,609.45 393.62,610.07 393.78,610.67 393.95,611.27 394.12,611.86 394.29,612.43 394.45,612.99 394.62,613.55 394.79,614.09 394.96,614.61 395.12,615.12 395.29,615.62 395.46,616.11 395.62,616.58 395.79,617.03 395.96,617.47 396.13,617.9 396.29,618.3 396.46,618.69 396.63,619.07 396.8,619.43 396.96,619.76 397.13,620.09 397.3,620.39 397.47,620.67 397.63,620.94 397.8,621.19 397.97,621.42 398.13,621.62 398.3,621.81 398.47,621.98 398.64,622.13 398.8,622.26 398.97,622.37 399.14,622.47 399.31,622.54 399.47,622.59 399.64,622.62 399.81,622.62 399.98,622.61 400.14,622.58 400.31,622.53 400.48,622.46 400.64,622.37 400.81,622.26 400.98,622.13 401.15,621.97 401.31,621.8 401.48,621.61 401.65,621.4 401.82,621.18 401.98,620.93 402.15,620.66 402.32,620.38 402.49,620.07 402.65,619.75 402.82,619.42 402.99,619.06 403.15,618.69 403.32,618.3 403.49,617.89 403.66,617.47 403.82,617.03 403.99,616.58 404.16,616.12 404.33,615.63 404.49,615.14 404.66,614.63 404.83,614.11 405,613.57 405.16,613.03 405.33,612.47 405.5,611.9 405.66,611.32 405.83,610.73 406,610.13 406.17,609.52 406.33,608.91 406.5,608.28 406.67,607.65 406.84,607.01 407,606.37 407.17,605.71 407.34,605.06 407.51,604.4 407.67,603.73 407.84,603.07 408.01,602.4 408.17,601.72 408.34,601.05 408.51,600.37 408.68,599.7 408.84,599.02 409.01,598.35 409.18,597.67 409.35,597 409.51,596.33 409.68,595.67 409.85,595.01 410.02,594.35 410.18,593.7 410.35,593.05 410.52,592.41 410.68,591.77 410.85,591.15 411.02,590.53 411.19,589.92 411.35,589.31 411.52,588.72 411.69,588.14 411.86,587.56 412.02,587 412.19,586.45 412.36,585.91 412.53,585.39 412.69,584.87 412.86,584.37 413.03,583.89 413.19,583.41 413.36,582.96 413.53,582.51 413.7,582.08 413.86,581.67 414.03,581.28 414.2,580.9 414.37,580.53 414.53,580.19 414.7,579.86 414.87,579.55 415.04,579.25 415.2,578.98 415.37,578.72 415.54,578.48 415.7,578.26 415.87,578.06 416.04,577.88 416.21,577.72 416.37,577.58 416.54,577.45 416.71,577.35 416.88,577.27 417.04,577.2 417.21,577.16 417.38,577.13 417.55,577.13 417.71,577.15 417.88,577.18 418.05,577.24 418.21,577.31 418.38,577.41 418.55,577.52 418.72,577.65 418.88,577.81 419.05,577.98 419.22,578.17 419.39,578.38 419.55,578.61 419.72,578.86 419.89,579.13 420.06,579.41 420.22,579.71 420.39,580.03 420.56,580.37 420.72,580.72 420.89,581.09 421.06,581.48 421.23,581.88 421.39,582.3 421.56,582.73 421.73,583.18 421.9,583.64 422.06,584.12 422.23,584.61 422.4,585.11 422.57,585.62 422.73,586.15 422.9,586.69 423.07,587.24 423.23,587.8 423.4,588.38 423.57,588.96 423.74,589.55 423.9,590.15 424.07,590.76 424.24,591.37 424.41,591.99 424.57,592.62 424.74,593.26 424.91,593.9 425.08,594.55 425.24,595.2 425.41,595.85 425.58,596.51 425.74,597.16 425.91,597.83 426.08,598.49 426.25,599.15 426.41,599.82 426.58,600.48 426.75,601.14 426.92,601.8 427.08,602.46 427.25,603.12 427.42,603.77 427.59,604.42 427.75,605.06 427.92,605.7 428.09,606.34 428.25,606.97 428.42,607.59 428.59,608.2 428.76,608.81 428.92,609.41 429.09,610 429.26,610.58 429.43,611.15 429.59,611.71 429.76,612.26 429.93,612.79 430.1,613.32 430.26,613.83 430.43,614.33 430.6,614.82 430.76,615.3 430.93,615.76 431.1,616.2 431.27,616.64 431.43,617.05 431.6,617.45 431.77,617.84 431.94,618.21 432.1,618.56 432.27,618.9 432.44,619.21 432.61,619.52 432.77,619.8 432.94,620.06 433.11,620.31 433.27,620.54 433.44,620.75 433.61,620.95 433.78,621.12 433.94,621.27 434.11,621.41 434.28,621.52 434.45,621.62 434.61,621.7 434.78,621.76 434.95,621.8 435.12,621.81 435.28,621.81 435.45,621.79 435.62,621.75 435.78,621.69 435.95,621.62 436.12,621.52 436.29,621.4 436.45,621.26 436.62,621.11 436.79,620.94 436.96,620.74 437.12,620.53 437.29,620.3 437.46,620.05 437.63,619.79 437.79,619.5 437.96,619.2 438.13,618.89 438.29,618.55 438.46,618.2 438.63,617.83 438.8,617.45 438.96,617.05 439.13,616.64 439.3,616.21 439.47,615.76 439.63,615.31 439.8,614.83 439.97,614.35 440.14,613.85 440.3,613.34 440.47,612.82 440.64,612.29 440.8,611.75 440.97,611.19 441.14,610.63 441.31,610.05 441.47,609.47 441.64,608.88 441.81,608.28 441.98,607.67 442.14,607.06 442.31,606.44 442.48,605.82 442.65,605.19 442.81,604.55 442.98,603.91 443.15,603.27 443.31,602.62 443.48,601.98 443.65,601.33 443.82,600.67 443.98,600.02 444.15,599.37 444.32,598.72 444.49,598.07 444.65,597.42 444.82,596.77 444.99,596.13 445.16,595.49 445.32,594.85 445.49,594.22 445.66,593.59 445.82,592.97 445.99,592.36 446.16,591.75 446.33,591.15 446.49,590.55 446.66,589.97 446.83,589.39 447,588.82 447.16,588.27 447.33,587.72 447.5,587.18 447.67,586.66 447.83,586.14 448,585.64" fill="none" stroke="#000" stroke-width="2.8" stroke-linejoin="round"/>
<g fill="#fff" stroke="#f7923f" stroke-width="2.4"><circle cx="55.8" cy="466.7" r="2.8"/><circle cx="68.95" cy="465.8" r="2.8"/><circle cx="82.1" cy="460.7" r="2.8"/><circle cx="95.25" cy="455.7" r="2.8"/><circle cx="108.4" cy="447.8" r="2.8"/><circle cx="121.55" cy="443.7" r="2.8"/><circle cx="134.7" cy="437.4" r="2.8"/><circle cx="147.85" cy="429.2" r="2.8"/><circle cx="161" cy="422.5" r="2.8"/><circle cx="174.15" cy="418.7" r="2.8"/><circle cx="187.3" cy="415.3" r="2.8"/><circle cx="200.45" cy="416.5" r="2.8"/><circle cx="213.6" cy="415.3" r="2.8"/><circle cx="226.75" cy="413.4" r="2.8"/><circle cx="239.9" cy="416.2" r="2.8"/><circle cx="253.05" cy="419" r="2.8"/><circle cx="266.2" cy="425.7" r="2.8"/><circle cx="279.35" cy="432.6" r="2.8"/><circle cx="292.5" cy="436.7" r="2.8"/><circle cx="305.65" cy="442.7" r="2.8"/><circle cx="318.8" cy="449.4" r="2.8"/><circle cx="331.95" cy="454.4" r="2.8"/><circle cx="345.1" cy="457.9" r="2.8"/><circle cx="358.25" cy="461.7" r="2.8"/><circle cx="371.4" cy="464.2" r="2.8"/><circle cx="384.55" cy="462.3" r="2.8"/><circle cx="397.7" cy="461.7" r="2.8"/><circle cx="410.85" cy="458.8" r="2.8"/><circle cx="424" cy="455.4" r="2.8"/><circle cx="437.15" cy="449.7" r="2.8"/></g>
<g fill="#fff" stroke="#b06086" stroke-width="2.4"><circle cx="48.8" cy="547.9" r="2.8"/><circle cx="55.37" cy="543.7" r="2.8"/><circle cx="61.94" cy="529.8" r="2.8"/><circle cx="68.51" cy="513.4" r="2.8"/><circle cx="75.08" cy="500.6" r="2.8"/><circle cx="81.65" cy="488.4" r="2.8"/><circle cx="88.22" cy="484.9" r="2.8"/><circle cx="94.79" cy="486.8" r="2.8"/><circle cx="101.36" cy="492.4" r="2.8"/><circle cx="107.93" cy="509.3" r="2.8"/><circle cx="114.5" cy="523.6" r="2.8"/><circle cx="121.07" cy="532.6" r="2.8"/><circle cx="127.64" cy="542.1" r="2.8"/><circle cx="134.21" cy="542.9" r="2.8"/><circle cx="140.78" cy="541.6" r="2.8"/><circle cx="147.35" cy="533.7" r="2.8"/><circle cx="153.92" cy="520.5" r="2.8"/><circle cx="160.49" cy="507.8" r="2.8"/><circle cx="167.06" cy="496" r="2.8"/><circle cx="173.63" cy="490.3" r="2.8"/><circle cx="180.2" cy="490.8" r="2.8"/><circle cx="186.77" cy="494.7" r="2.8"/><circle cx="193.34" cy="507.8" r="2.8"/><circle cx="199.91" cy="515.7" r="2.8"/><circle cx="206.48" cy="527.6" r="2.8"/><circle cx="213.05" cy="534.5" r="2.8"/><circle cx="219.62" cy="539" r="2.8"/><circle cx="226.19" cy="537.8" r="2.8"/><circle cx="232.76" cy="533.9" r="2.8"/><circle cx="239.33" cy="525.2" r="2.8"/><circle cx="245.9" cy="512.4" r="2.8"/><circle cx="252.47" cy="502.9" r="2.8"/><circle cx="259.04" cy="496.6" r="2.8"/><circle cx="265.61" cy="495.5" r="2.8"/><circle cx="272.18" cy="498.7" r="2.8"/><circle cx="278.75" cy="501.5" r="2.8"/><circle cx="285.32" cy="509.7" r="2.8"/><circle cx="291.89" cy="517.9" r="2.8"/><circle cx="298.46" cy="530.6" r="2.8"/><circle cx="305.03" cy="535.8" r="2.8"/><circle cx="311.6" cy="538.5" r="2.8"/><circle cx="318.17" cy="533.9" r="2.8"/><circle cx="324.74" cy="527.4" r="2.8"/><circle cx="331.31" cy="517.9" r="2.8"/><circle cx="337.88" cy="505.8" r="2.8"/><circle cx="344.45" cy="500.3" r="2.8"/><circle cx="351.02" cy="493.9" r="2.8"/><circle cx="357.59" cy="497.1" r="2.8"/><circle cx="364.16" cy="503.4" r="2.8"/><circle cx="370.73" cy="510.1" r="2.8"/><circle cx="377.3" cy="521.6" r="2.8"/><circle cx="383.87" cy="527.9" r="2.8"/><circle cx="390.44" cy="534.2" r="2.8"/><circle cx="397.01" cy="535" r="2.8"/><circle cx="403.58" cy="530.3" r="2.8"/><circle cx="410.15" cy="522.4" r="2.8"/><circle cx="416.72" cy="513.7" r="2.8"/><circle cx="423.29" cy="506.6" r="2.8"/><circle cx="429.86" cy="498.2" r="2.8"/><circle cx="436.43" cy="496" r="2.8"/><circle cx="443" cy="498.4" r="2.8"/></g>
<g fill="#fff" stroke="#5a3ca0" stroke-width="2.4"><circle cx="45.8" cy="633.5" r="2.8"/><circle cx="49.09" cy="628.3" r="2.8"/><circle cx="52.37" cy="616.1" r="2.8"/><circle cx="55.66" cy="598.6" r="2.8"/><circle cx="58.94" cy="580.4" r="2.8"/><circle cx="62.23" cy="567.8" r="2.8"/><circle cx="65.52" cy="568.7" r="2.8"/><circle cx="68.8" cy="577" r="2.8"/><circle cx="72.09" cy="597.2" r="2.8"/><circle cx="75.37" cy="613.3" r="2.8"/><circle cx="78.66" cy="627" r="2.8"/><circle cx="81.95" cy="631" r="2.8"/><circle cx="85.23" cy="622.7" r="2.8"/><circle cx="88.52" cy="609.3" r="2.8"/><circle cx="91.8" cy="591.5" r="2.8"/><circle cx="95.09" cy="577.7" r="2.8"/><circle cx="98.38" cy="569.8" r="2.8"/><circle cx="101.66" cy="573" r="2.8"/><circle cx="104.95" cy="586.4" r="2.8"/><circle cx="108.23" cy="601.4" r="2.8"/><circle cx="111.52" cy="618.3" r="2.8"/><circle cx="114.81" cy="629.1" r="2.8"/><circle cx="118.09" cy="629.1" r="2.8"/><circle cx="121.38" cy="619.6" r="2.8"/><circle cx="124.66" cy="604.1" r="2.8"/><circle cx="127.95" cy="589.6" r="2.8"/><circle cx="131.24" cy="573.8" r="2.8"/><circle cx="134.52" cy="571" r="2.8"/><circle cx="137.81" cy="571" r="2.8"/><circle cx="141.09" cy="589.3" r="2.8"/><circle cx="144.38" cy="607.4" r="2.8"/><circle cx="147.67" cy="620.7" r="2.8"/><circle cx="150.95" cy="629.1" r="2.8"/><circle cx="154.24" cy="627.5" r="2.8"/><circle cx="157.52" cy="613" r="2.8"/><circle cx="160.81" cy="598.7" r="2.8"/><circle cx="164.1" cy="583.3" r="2.8"/><circle cx="167.38" cy="572.2" r="2.8"/><circle cx="170.67" cy="571" r="2.8"/><circle cx="173.95" cy="575.7" r="2.8"/><circle cx="177.24" cy="594" r="2.8"/><circle cx="180.53" cy="611.4" r="2.8"/><circle cx="183.81" cy="622.4" r="2.8"/><circle cx="187.1" cy="628.3" r="2.8"/><circle cx="190.38" cy="623.5" r="2.8"/><circle cx="193.67" cy="611.2" r="2.8"/><circle cx="196.96" cy="594" r="2.8"/><circle cx="200.24" cy="581.7" r="2.8"/><circle cx="203.53" cy="570.3" r="2.8"/><circle cx="206.81" cy="573" r="2.8"/><circle cx="210.1" cy="580.1" r="2.8"/><circle cx="213.39" cy="597.5" r="2.8"/><circle cx="216.67" cy="613.3" r="2.8"/><circle cx="219.96" cy="623.5" r="2.8"/><circle cx="223.24" cy="627" r="2.8"/><circle cx="226.53" cy="621.5" r="2.8"/><circle cx="229.82" cy="608.2" r="2.8"/><circle cx="233.1" cy="594.6" r="2.8"/><circle cx="236.39" cy="580.1" r="2.8"/><circle cx="239.67" cy="573" r="2.8"/><circle cx="242.96" cy="578.2" r="2.8"/><circle cx="246.25" cy="588.8" r="2.8"/><circle cx="249.53" cy="602.2" r="2.8"/><circle cx="252.82" cy="619.9" r="2.8"/><circle cx="256.1" cy="625.6" r="2.8"/><circle cx="259.39" cy="624.6" r="2.8"/><circle cx="262.68" cy="611.7" r="2.8"/><circle cx="265.96" cy="604.1" r="2.8"/><circle cx="269.25" cy="589.3" r="2.8"/><circle cx="272.53" cy="576.6" r="2.8"/><circle cx="275.82" cy="574.3" r="2.8"/><circle cx="279.11" cy="578.2" r="2.8"/><circle cx="282.39" cy="589.3" r="2.8"/><circle cx="285.68" cy="604.1" r="2.8"/><circle cx="288.96" cy="617.7" r="2.8"/><circle cx="292.25" cy="625.6" r="2.8"/><circle cx="295.54" cy="623.5" r="2.8"/><circle cx="298.82" cy="616.7" r="2.8"/><circle cx="302.11" cy="602.5" r="2.8"/><circle cx="305.39" cy="588" r="2.8"/><circle cx="308.68" cy="573.5" r="2.8"/><circle cx="311.97" cy="575.7" r="2.8"/><circle cx="315.25" cy="577.7" r="2.8"/><circle cx="318.54" cy="590.8" r="2.8"/><circle cx="321.82" cy="607.3" r="2.8"/><circle cx="325.11" cy="617.7" r="2.8"/><circle cx="328.4" cy="625.6" r="2.8"/><circle cx="331.68" cy="621.9" r="2.8"/><circle cx="334.97" cy="609.3" r="2.8"/><circle cx="338.25" cy="599.1" r="2.8"/><circle cx="341.54" cy="588" r="2.8"/><circle cx="344.83" cy="578.5" r="2.8"/><circle cx="348.11" cy="573" r="2.8"/><circle cx="351.4" cy="586.1" r="2.8"/><circle cx="354.68" cy="601.4" r="2.8"/><circle cx="357.97" cy="613" r="2.8"/><circle cx="361.26" cy="621.9" r="2.8"/><circle cx="364.54" cy="622.7" r="2.8"/><circle cx="367.83" cy="617.2" r="2.8"/><circle cx="371.11" cy="611.4" r="2.8"/><circle cx="374.4" cy="595.6" r="2.8"/><circle cx="377.69" cy="581.7" r="2.8"/><circle cx="380.97" cy="574.6" r="2.8"/><circle cx="384.26" cy="575.7" r="2.8"/><circle cx="387.54" cy="583.3" r="2.8"/><circle cx="390.83" cy="595.6" r="2.8"/><circle cx="394.12" cy="606.2" r="2.8"/><circle cx="397.4" cy="618.8" r="2.8"/><circle cx="400.69" cy="622.7" r="2.8"/><circle cx="403.97" cy="611.7" r="2.8"/><circle cx="407.26" cy="603.5" r="2.8"/><circle cx="410.55" cy="590.8" r="2.8"/><circle cx="413.83" cy="580.9" r="2.8"/><circle cx="417.12" cy="577.3" r="2.8"/><circle cx="420.4" cy="581.7" r="2.8"/><circle cx="423.69" cy="588" r="2.8"/><circle cx="426.98" cy="600.3" r="2.8"/><circle cx="430.26" cy="611.7" r="2.8"/><circle cx="433.55" cy="618" r="2.8"/><circle cx="436.83" cy="621.9" r="2.8"/><circle cx="440.12" cy="620.4" r="2.8"/><circle cx="443.41" cy="605.4" r="2.8"/><circle cx="446.69" cy="594" r="2.8"/></g>
<text x="62.9" y="419.8" font-size="20" font-family="Liberation Serif, serif" fill="#f7923f" text-anchor="start" textLength="89.7" lengthAdjust="spacingAndGlyphs"  >&#937;=10MHz</text>
<text x="178.5" y="483" font-size="20" font-family="Liberation Serif, serif" fill="#b06086" text-anchor="start" textLength="89.9" lengthAdjust="spacingAndGlyphs"  >&#937;=38MHz</text>
<text x="333" y="562.6" font-size="20" font-family="Liberation Serif, serif" fill="#5a3ca0" text-anchor="start" textLength="89.9" lengthAdjust="spacingAndGlyphs"  >&#937;=95MHz</text>
<rect x="354.7" y="408" width="48.3" height="24.4" fill="url(#pulse)"/>
<polyline points="326.3,432.4 354.7,432.4 354.7,408 403,408 403,432.4 426.9,432.4" fill="none" stroke="#000" stroke-width="1.1"/>
<text x="358.8" y="425.7" font-size="16" font-family="Liberation Serif, serif" fill="#000" text-anchor="start" textLength="40.6" lengthAdjust="spacingAndGlyphs"  >2<tspan font-style="italic">&#960;</tspan>&#937;<tspan font-style="italic">T</tspan></text>
<path d="M479.5,339.1A23.83,23.83 0 0 0 479.5,374.9A29.9,29.9 0 0 1 479.5,339.1z" fill="#000"/>
<path d="M500.2,339.1A24.66,24.66 0 0 1 500.2,374.9A31.64,31.64 0 0 0 500.2,339.1z" fill="#000"/>
<text x="482" y="366.8" font-size="36" font-family="Liberation Serif, serif" fill="#000" text-anchor="start" textLength="15.8" lengthAdjust="spacingAndGlyphs"   stroke="#fff" stroke-width="0.25">c</text>
<rect x="527.3" y="383.6" width="127" height="250.4" fill="none" stroke="#b0b0b0" stroke-width="1.1"/>
<text x="527.3" y="657" font-size="16.5" font-family="Liberation Sans, sans-serif" fill="#262626" text-anchor="middle"  >0</text>
<text x="580.22" y="657" font-size="16.5" font-family="Liberation Sans, sans-serif" fill="#262626" text-anchor="middle"  >5</text>
<text x="633.13" y="657" font-size="16.5" font-family="Liberation Sans, sans-serif" fill="#262626" text-anchor="middle"  >10</text>
<text x="522" y="640" font-size="16.5" font-family="Liberation Sans, sans-serif" fill="#262626" text-anchor="end"  >0</text>
<text x="522" y="561.75" font-size="16.5" font-family="Liberation Sans, sans-serif" fill="#262626" text-anchor="end"  >50</text>
<text x="522" y="483.5" font-size="16.5" font-family="Liberation Sans, sans-serif" fill="#262626" text-anchor="end"  >100</text>
<text x="522" y="405.25" font-size="16.5" font-family="Liberation Sans, sans-serif" fill="#262626" text-anchor="end"  >150</text>
<path d="M527.3,634v-3.6M527.3,383.6v3.6M580.22,634v-3.6M580.22,383.6v3.6M633.13,634v-3.6M633.13,383.6v3.6M527.3,634h3.6M654.3,634h-3.6M527.3,555.75h3.6M654.3,555.75h-3.6M527.3,477.5h3.6M654.3,477.5h-3.6M527.3,399.25h3.6M654.3,399.25h-3.6" stroke="#b0b0b0" stroke-width="1.1" fill="none"/>
<text x="516.8" y="678" font-size="17.3" font-family="Liberation Sans, sans-serif" fill="#262626" text-anchor="start" textLength="147.6" lengthAdjust="spacingAndGlyphs"  >Optical power (<tspan font-family="Liberation Serif, serif" font-style="italic">&#956;</tspan>W)</text>
<text x="489" y="604.2" font-size="17" font-family="Liberation Sans, sans-serif" fill="#262626" text-anchor="start" transform="rotate(-90 489 604.2)" textLength="191" lengthAdjust="spacingAndGlyphs"  >Rabi frequency, <tspan font-family="Liberation Serif, serif">&#937;</tspan> (MHz)</text>
<line x1="528.3" y1="633" x2="653.5" y2="383.6" stroke="#000" stroke-width="5.4"/>
<g fill="#fff" stroke="#f7923f" stroke-width="3.6"><circle cx="530.4" cy="626.4" r="4.7"/><circle cx="533.5" cy="619.5" r="4.7"/><circle cx="536.6" cy="611" r="4.7"/><circle cx="539.3" cy="605.2" r="4.7"/><circle cx="542" cy="599.4" r="4.7"/><circle cx="545.1" cy="593.6" r="4.7"/><circle cx="546.3" cy="588.5" r="4.7"/><circle cx="552.9" cy="575" r="4.7"/><circle cx="556.7" cy="573.5" r="4.7"/><circle cx="562.6" cy="564.6" r="4.7"/><circle cx="569.1" cy="557.6" r="4.7"/><circle cx="572.6" cy="545.2" r="4.7"/><circle cx="579.2" cy="531.3" r="4.7"/><circle cx="585.8" cy="520.5" r="4.7"/><circle cx="592.7" cy="504.6" r="4.7"/><circle cx="599.3" cy="496.9" r="4.7"/><circle cx="605.5" cy="482.5" r="4.7"/><circle cx="617.5" cy="460.1" r="4.7"/><circle cx="629.1" cy="422.2" r="4.7"/><circle cx="640.7" cy="405.9" r="4.7"/><circle cx="651.5" cy="392.4" r="4.7"/></g></svg></body></html>
